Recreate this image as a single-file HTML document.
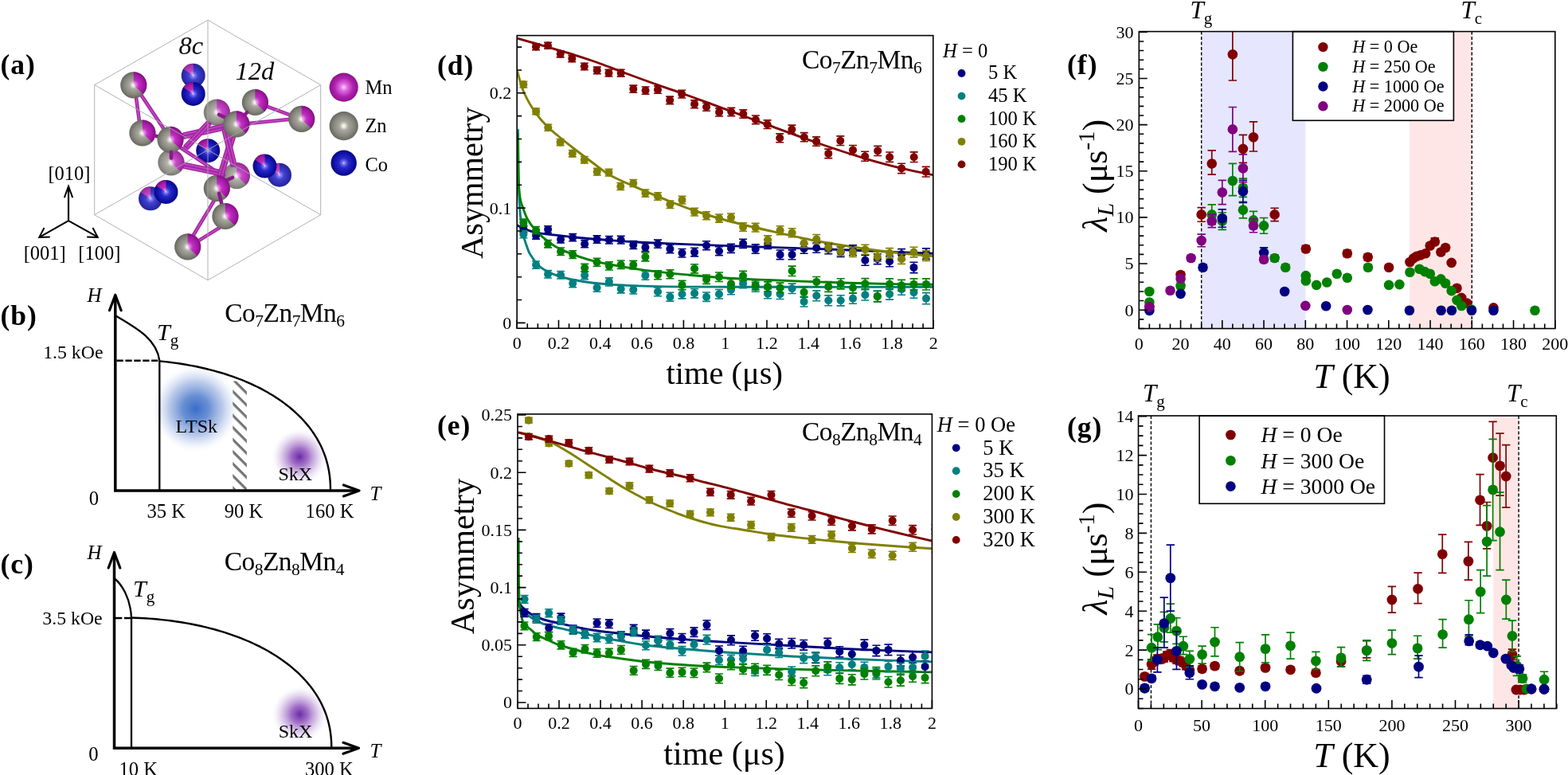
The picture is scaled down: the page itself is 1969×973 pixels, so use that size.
<!DOCTYPE html>
<html><head><meta charset="utf-8"><title>Figure</title>
<style>html,body{margin:0;padding:0;background:#fff;width:1969px;height:973px;overflow:hidden}svg{display:block}text{font-family:'Liberation Serif','Times New Roman',serif}</style></head><body>
<svg width="1969" height="973" viewBox="0 0 1969 973" font-family="'Liberation Serif','Times New Roman',serif">
<rect width="1969" height="973" fill="#fff"/>
<defs>
<clipPath id="cd"><rect x="649.2" y="44.6" width="522.6" height="367.6"/></clipPath>
<clipPath id="ce"><rect x="650" y="519.9" width="520.4" height="369.5"/></clipPath>
<clipPath id="cf"><rect x="1430.3" y="39.6" width="522.5" height="372.9"/></clipPath>
<clipPath id="cg"><rect x="1429.5" y="522" width="524.8" height="367.5"/></clipPath>
<radialGradient id="gZn" cx="0.5" cy="0.5" r="0.55" fx="0.5" fy="0.5"><stop offset="0" stop-color="#ffffff"/><stop offset="0.08" stop-color="#eeeee6"/><stop offset="0.28" stop-color="#a8a89e"/><stop offset="0.65" stop-color="#86867e"/><stop offset="1" stop-color="#5c5c54"/></radialGradient>
<radialGradient id="gMn" cx="0.5" cy="0.5" r="0.55" fx="0.5" fy="0.5"><stop offset="0" stop-color="#ffd0ff"/><stop offset="0.22" stop-color="#e070e0"/><stop offset="0.6" stop-color="#b020b0"/><stop offset="1" stop-color="#801080"/></radialGradient>
<radialGradient id="gCo" cx="0.5" cy="0.5" r="0.55" fx="0.5" fy="0.5"><stop offset="0" stop-color="#c8c8ff"/><stop offset="0.12" stop-color="#7070f0"/><stop offset="0.35" stop-color="#2828c8"/><stop offset="0.7" stop-color="#1010a8"/><stop offset="1" stop-color="#050570"/></radialGradient>
<radialGradient id="gLT" cx="0.5" cy="0.5" r="0.5"><stop offset="0" stop-color="#3a6cc8" stop-opacity="1"/><stop offset="0.3" stop-color="#4f7dcc" stop-opacity="0.85"/><stop offset="0.6" stop-color="#7f9cd8" stop-opacity="0.55"/><stop offset="0.8" stop-color="#b4c6ea" stop-opacity="0.3"/><stop offset="1" stop-color="#ffffff" stop-opacity="0"/></radialGradient>
<radialGradient id="gSk" cx="0.5" cy="0.5" r="0.5"><stop offset="0" stop-color="#6a2aa8" stop-opacity="1"/><stop offset="0.3" stop-color="#8a4cb8" stop-opacity="0.8"/><stop offset="0.6" stop-color="#b08ad0" stop-opacity="0.5"/><stop offset="0.8" stop-color="#d0b8e4" stop-opacity="0.25"/><stop offset="1" stop-color="#ffffff" stop-opacity="0"/></radialGradient>
<pattern id="hatch" patternUnits="userSpaceOnUse" width="10.7" height="10.7" patternTransform="rotate(45)"><rect x="0" y="0" width="10.7" height="3.2" fill="#757575"/></pattern>
</defs>
<defs><radialGradient id="gMnW" gradientUnits="userSpaceOnUse" cx="0" cy="0" r="1.1"><stop offset="0" stop-color="#ffd8ff"/><stop offset="0.12" stop-color="#f090f0"/><stop offset="0.35" stop-color="#c030c0"/><stop offset="0.7" stop-color="#a418a4"/><stop offset="1" stop-color="#780878"/></radialGradient><g id="a12"><circle r="1" fill="url(#gZn)"/><path d="M0,0L0,-1A1,1 0 0 1 0.72,0.69Z" fill="url(#gMnW)"/></g><g id="aCo"><circle r="1" fill="url(#gCo)"/><path d="M0,0L0,-1A1,1 0 0 0 -0.84,-0.54Z" fill="url(#gMnW)"/></g></defs>
<use href="#aCo" transform="translate(242.7,94.8) scale(15)" opacity="0.88"/>
<use href="#a12" transform="translate(272.3,141.1) scale(16.6)" opacity="0.88"/>
<use href="#a12" transform="translate(214.9,204) scale(16.6)" opacity="0.88"/>
<use href="#a12" transform="translate(297.3,220.6) scale(16.6)" opacity="0.88"/>
<use href="#aCo" transform="translate(351,219.7) scale(15)" opacity="0.88"/>
<use href="#aCo" transform="translate(189,249.3) scale(15)" opacity="0.88"/>
<use href="#aCo" transform="translate(261.2,189.2) scale(15)"/>
<line x1="170.5" y1="118.9" x2="175.2" y2="154" stroke="#a626a6" stroke-width="4.6" stroke-linecap="round"/>
<line x1="170.5" y1="118.9" x2="175.2" y2="154" stroke="#c050c0" stroke-width="1.4"/>
<line x1="177" y1="118.9" x2="206.6" y2="163.3" stroke="#a626a6" stroke-width="4.6" stroke-linecap="round"/>
<line x1="177" y1="118.9" x2="206.6" y2="163.3" stroke="#c050c0" stroke-width="1.4"/>
<line x1="230.7" y1="168.5" x2="280.6" y2="157.6" stroke="#a626a6" stroke-width="4.6" stroke-linecap="round"/>
<line x1="230.7" y1="168.5" x2="280.6" y2="157.6" stroke="#c050c0" stroke-width="1.4"/>
<line x1="231.5" y1="172.5" x2="281.4" y2="161.6" stroke="#a626a6" stroke-width="4.6" stroke-linecap="round"/>
<line x1="231.5" y1="172.5" x2="281.4" y2="161.6" stroke="#c050c0" stroke-width="1.4"/>
<line x1="227" y1="185.5" x2="276.9" y2="218.8" stroke="#a626a6" stroke-width="4.6" stroke-linecap="round"/>
<line x1="227" y1="185.5" x2="276.9" y2="218.8" stroke="#c050c0" stroke-width="1.4"/>
<line x1="230.7" y1="205.7" x2="280.6" y2="215.9" stroke="#a626a6" stroke-width="4.6" stroke-linecap="round"/>
<line x1="230.7" y1="205.7" x2="280.6" y2="215.9" stroke="#c050c0" stroke-width="1.4"/>
<line x1="231.2" y1="209.7" x2="281.1" y2="219.9" stroke="#a626a6" stroke-width="4.6" stroke-linecap="round"/>
<line x1="231.2" y1="209.7" x2="281.1" y2="219.9" stroke="#c050c0" stroke-width="1.4"/>
<line x1="232.5" y1="183.6" x2="260.3" y2="154" stroke="#a626a6" stroke-width="4.6" stroke-linecap="round"/>
<line x1="232.5" y1="183.6" x2="260.3" y2="154" stroke="#c050c0" stroke-width="1.4"/>
<line x1="235.5" y1="185.6" x2="263.3" y2="156" stroke="#a626a6" stroke-width="4.6" stroke-linecap="round"/>
<line x1="235.5" y1="185.6" x2="263.3" y2="156" stroke="#c050c0" stroke-width="1.4"/>
<line x1="289.7" y1="172.5" x2="274.9" y2="220.6" stroke="#a626a6" stroke-width="4.6" stroke-linecap="round"/>
<line x1="289.7" y1="172.5" x2="274.9" y2="220.6" stroke="#c050c0" stroke-width="1.4"/>
<line x1="293.7" y1="172.5" x2="278.9" y2="220.6" stroke="#a626a6" stroke-width="4.6" stroke-linecap="round"/>
<line x1="293.7" y1="172.5" x2="278.9" y2="220.6" stroke="#c050c0" stroke-width="1.4"/>
<line x1="280.6" y1="163.3" x2="291.6" y2="207.7" stroke="#a626a6" stroke-width="4.6" stroke-linecap="round"/>
<line x1="280.6" y1="163.3" x2="291.6" y2="207.7" stroke="#c050c0" stroke-width="1.4"/>
<line x1="284.6" y1="163.3" x2="295.6" y2="207.7" stroke="#a626a6" stroke-width="4.6" stroke-linecap="round"/>
<line x1="284.6" y1="163.3" x2="295.6" y2="207.7" stroke="#c050c0" stroke-width="1.4"/>
<line x1="335.2" y1="133.7" x2="367.6" y2="145.7" stroke="#a626a6" stroke-width="4.6" stroke-linecap="round"/>
<line x1="335.2" y1="133.7" x2="367.6" y2="145.7" stroke="#c050c0" stroke-width="1.4"/>
<line x1="312.1" y1="155" x2="362.1" y2="150" stroke="#a626a6" stroke-width="4.6" stroke-linecap="round"/>
<line x1="312.1" y1="155" x2="362.1" y2="150" stroke="#c050c0" stroke-width="1.4"/>
<line x1="270" y1="250" x2="240" y2="300" stroke="#a626a6" stroke-width="4.6" stroke-linecap="round"/>
<line x1="270" y1="250" x2="240" y2="300" stroke="#c050c0" stroke-width="1.4"/>
<line x1="285" y1="280" x2="245" y2="305" stroke="#a626a6" stroke-width="4.6" stroke-linecap="round"/>
<line x1="285" y1="280" x2="245" y2="305" stroke="#c050c0" stroke-width="1.4"/>
<use href="#a12" transform="translate(167.8,106.8) scale(16.6)"/>
<use href="#aCo" transform="translate(242.7,117.9) scale(15)"/>
<use href="#a12" transform="translate(178.9,167) scale(16.6)"/>
<line x1="195.5" y1="170.7" x2="208.5" y2="173.4" stroke="#8a1a8a" stroke-width="4.6" stroke-linecap="round"/>
<line x1="275" y1="144" x2="288" y2="150" stroke="#8a1a8a" stroke-width="4.6" stroke-linecap="round"/>
<use href="#a12" transform="translate(214,175.3) scale(16.6)"/>
<line x1="215" y1="191" x2="215" y2="198.4" stroke="#8a1a8a" stroke-width="4.6" stroke-linecap="round"/>
<use href="#a12" transform="translate(320.4,128.5) scale(16.6)"/>
<line x1="301" y1="150.3" x2="310.2" y2="141.1" stroke="#8a1a8a" stroke-width="4.6" stroke-linecap="round"/>
<use href="#a12" transform="translate(296.9,155.9) scale(16.6)"/>
<use href="#a12" transform="translate(378.7,149.4) scale(16.6)"/>
<use href="#aCo" transform="translate(332.5,208.6) scale(15)"/>
<use href="#aCo" transform="translate(208.5,241) scale(15)"/>
<line x1="285" y1="226" x2="292" y2="223" stroke="#8a1a8a" stroke-width="4.6" stroke-linecap="round"/>
<use href="#a12" transform="translate(272.3,236.4) scale(16.6)"/>
<line x1="275.1" y1="242.8" x2="278.8" y2="257.6" stroke="#8a1a8a" stroke-width="4.6" stroke-linecap="round"/>
<use href="#a12" transform="translate(282.9,271.5) scale(16.6)"/>
<use href="#a12" transform="translate(235.7,309.9) scale(16.6)"/>
<path d="M261,25.2 L402.7,106.6 L402.7,269.7 L261,351.8 L118.7,269.7 L118.7,106.6ZM261,188.2L261,25.2M261,188.2L402.7,106.6M261,188.2L402.7,269.7M261,188.2L261,351.8M261,188.2L118.7,269.7M261,188.2L118.7,106.6" fill="none" stroke="#a8a8a8" stroke-width="1.0" stroke-opacity="0.9"/>
<text x="224.5" y="68.4" font-size="32.5" font-style="italic">8c</text>
<text x="295.5" y="100.3" font-size="32.5" font-style="italic">12d</text>
<circle cx="431.7" cy="109.6" r="18.1" fill="url(#gMn)"/>
<circle cx="431.7" cy="158.1" r="18.1" fill="url(#gZn)"/>
<circle cx="431.7" cy="204.6" r="16.2" fill="url(#gCo)"/>
<text x="458.4" y="117.5" font-size="24.5">Mn</text>
<text x="458.4" y="166.3" font-size="24.5">Zn</text>
<text x="458.4" y="214.8" font-size="24.5">Co</text>
<path d="M86,277.1V234.5M86,277.1L49.8,297.6M86,277.1L122.8,297.6" stroke="#000" stroke-width="2.2" fill="none"/>
<path d="M80.8,248.2L86,234L91.2,248.2M55.5,286L49.3,297.9L62.8,297.5M109.2,297.5L122.7,297.9L116.5,286" stroke="#000" stroke-width="2" fill="none" stroke-linejoin="miter"/>
<text x="87" y="226.3" font-size="24.5" text-anchor="middle">[010]</text>
<text x="56.2" y="325.7" font-size="24.5" text-anchor="middle">[001]</text>
<text x="124.8" y="325.7" font-size="24.5" text-anchor="middle">[100]</text>
<circle cx="245.7" cy="513.1" r="56" fill="url(#gLT)"/>
<circle cx="376" cy="573.5" r="36" fill="url(#gSk)"/>
<rect x="292.3" y="478.5" width="17.6" height="136" fill="url(#hatch)"/>
<path d="M144.8,617.75V372.2M143.05,616H449" stroke="#000" stroke-width="3.5" fill="none"/>
<path d="M137.5,389.7L144.8,370.2L152.1,389.7M431.5,609L451,616L431.5,623" stroke="#000" stroke-width="3.2" fill="none" stroke-linejoin="round" stroke-linecap="round"/>
<path d="M145,396.2C170,411.2 196.3,424.6 200.3,452.6" stroke="#000" stroke-width="2.3" fill="none"/>
<path d="M146.5,452.8H200.3" stroke="#000" stroke-width="2.4" fill="none" stroke-dasharray="8.3,2.6"/>
<path d="M200.3,452.6V615" stroke="#000" stroke-width="2.3" fill="none"/>
<path d="M200.3,453.39 L205.18,453.88 L210,454.42 L214.78,455 L219.5,455.62 L224.18,456.29 L228.81,457 L233.39,457.76 L237.93,458.56 L242.42,459.41 L246.87,460.3 L251.26,461.23 L255.62,462.21 L259.92,463.23 L264.18,464.29 L268.39,465.4 L272.56,466.55 L276.67,467.74 L280.74,468.97 L284.76,470.24 L288.73,471.56 L292.65,472.92 L296.52,474.31 L300.34,475.75 L304.1,477.23 L307.82,478.75 L311.48,480.31 L315.08,481.91 L318.64,483.54 L322.14,485.22 L325.58,486.93 L328.97,488.69 L332.3,490.48 L335.57,492.3 L338.78,494.17 L341.94,496.07 L345.04,498 L348.07,499.97 L351.05,501.98 L353.96,504.02 L356.82,506.1 L359.61,508.21 L362.34,510.35 L365,512.53 L367.6,514.74 L370.14,516.99 L372.61,519.26 L375.02,521.57 L377.36,523.91 L379.63,526.28 L381.84,528.68 L383.98,531.11 L386.05,533.57 L388.05,536.07 L389.98,538.59 L391.85,541.14 L393.64,543.72 L395.36,546.32 L397.02,548.96 L398.6,551.62 L400.11,554.32 L401.55,557.04 L402.92,559.79 L404.22,562.56 L405.44,565.37 L406.59,568.2 L407.67,571.07 L408.67,573.96 L409.6,576.88 L410.46,579.84 L411.24,582.83 L411.95,585.85 L412.59,588.91 L413.15,592.01 L413.63,595.15 L414.04,598.34 L414.38,601.6 L414.64,604.93 L414.83,608.36 L414.94,611.95 L414.98,616" stroke="#000" stroke-width="2.4" fill="none" stroke-linejoin="round"/>
<text x="220.6" y="542.7" font-size="24">LTSk</text>
<text x="349.5" y="603.3" font-size="24">SkX</text>
<text x="109.5" y="379" font-size="25" font-style="italic">H</text>
<text x="129.5" y="450.2" font-size="23.8" text-anchor="end">1.5 kOe</text>
<text x="118" y="633.6" font-size="24.6" text-anchor="middle">0</text>
<text x="208.7" y="649.6" font-size="24.6" text-anchor="middle">35 K</text>
<text x="306" y="649.6" font-size="24.6" text-anchor="middle">90 K</text>
<text x="414" y="649.6" font-size="24.6" text-anchor="middle">160 K</text>
<text x="464.5" y="628" font-size="25" font-style="italic">T</text>
<text x="282.3" y="404" font-size="33.5" letter-spacing="-0.55">Co<tspan font-size="21.5" dy="5.6">7</tspan><tspan dy="-5.6">Zn</tspan><tspan font-size="21.5" dy="5.6">7</tspan><tspan dy="-5.6">Mn</tspan><tspan font-size="21.5" dy="5.6">6</tspan></text>
<text x="197" y="427.4" font-size="30"><tspan font-style="italic">T</tspan><tspan font-size="21" dy="7">g</tspan></text>
<circle cx="376.3" cy="896.8" r="36" fill="url(#gSk)"/>
<path d="M143.5,941.05V695.5M141.75,939.3H448.5" stroke="#000" stroke-width="3.5" fill="none"/>
<path d="M136.2,713L143.5,693.5L150.8,713M431,932.3L450.5,939.3L431,946.3" stroke="#000" stroke-width="3.2" fill="none" stroke-linejoin="round" stroke-linecap="round"/>
<path d="M143.5,726C152.3,733 163.8,750 165,775.8" stroke="#000" stroke-width="2.3" fill="none"/>
<path d="M145,776H165" stroke="#000" stroke-width="2.4" fill="none" stroke-dasharray="8.3,2.6"/>
<path d="M165,775.8V938" stroke="#000" stroke-width="2.3" fill="none"/>
<path d="M165,775.48 L170.76,775.69 L176.41,775.96 L181.98,776.28 L187.47,776.65 L192.88,777.07 L198.24,777.55 L203.54,778.08 L208.77,778.67 L213.96,779.31 L219.09,780 L224.17,780.74 L229.19,781.53 L234.17,782.38 L239.09,783.28 L243.96,784.23 L248.78,785.23 L253.55,786.29 L258.26,787.39 L262.92,788.55 L267.53,789.75 L272.08,791.01 L276.58,792.31 L281.02,793.66 L285.41,795.07 L289.74,796.52 L294.01,798.02 L298.22,799.56 L302.37,801.16 L306.46,802.8 L310.49,804.49 L314.46,806.22 L318.36,808 L322.2,809.82 L325.98,811.69 L329.68,813.6 L333.32,815.56 L336.9,817.56 L340.4,819.6 L343.84,821.68 L347.2,823.81 L350.49,825.98 L353.72,828.19 L356.86,830.43 L359.94,832.72 L362.94,835.05 L365.86,837.41 L368.71,839.81 L371.48,842.25 L374.18,844.73 L376.8,847.24 L379.33,849.79 L381.79,852.38 L384.17,855 L386.47,857.65 L388.68,860.34 L390.82,863.06 L392.87,865.81 L394.83,868.6 L396.72,871.41 L398.52,874.26 L400.23,877.15 L401.87,880.06 L403.41,883 L404.87,885.98 L406.24,888.98 L407.53,892.02 L408.72,895.09 L409.84,898.19 L410.86,901.32 L411.79,904.49 L412.64,907.69 L413.4,910.93 L414.07,914.21 L414.65,917.53 L415.14,920.9 L415.54,924.32 L415.86,927.82 L416.08,931.41 L416.22,935.14 L416.26,939.3" stroke="#000" stroke-width="2.4" fill="none" stroke-linejoin="round"/>
<text x="349.7" y="926.4" font-size="24">SkX</text>
<text x="109.5" y="701.8" font-size="25" font-style="italic">H</text>
<text x="128.7" y="784" font-size="23.8" text-anchor="end">3.5 kOe</text>
<text x="117.4" y="955.4" font-size="24.6" text-anchor="middle">0</text>
<text x="173.7" y="973.5" font-size="24.6" text-anchor="middle">10 K</text>
<text x="413.4" y="973.5" font-size="24.6" text-anchor="middle">300 K</text>
<text x="464.5" y="950.8" font-size="25" font-style="italic">T</text>
<text x="281.7" y="716" font-size="33.5" letter-spacing="-0.55">Co<tspan font-size="21.5" dy="5.6">8</tspan><tspan dy="-5.6">Zn</tspan><tspan font-size="21.5" dy="5.6">8</tspan><tspan dy="-5.6">Mn</tspan><tspan font-size="21.5" dy="5.6">4</tspan></text>
<text x="167" y="748.5" font-size="30"><tspan font-style="italic">T</tspan><tspan font-size="21" dy="7">g</tspan></text>
<g clip-path="url(#cd)">
<path d="M649.6,282.8 C650.92,283.52 653.28,285.5 657.5,287.1 C661.72,288.7 669.08,291.15 674.9,292.4 C680.72,293.65 684.02,293.63 692.4,294.6 C700.78,295.57 713.1,297.03 725.2,298.2 C737.3,299.37 751.63,300.6 765,301.6 C778.37,302.6 789.57,303.37 805.4,304.2 C821.23,305.03 841.73,305.87 860,306.6 C878.27,307.33 897.5,307.97 915,308.6 C932.5,309.23 946.62,309.77 965,310.4 C983.38,311.03 1001.9,311.53 1025.3,312.4 C1048.7,313.27 1081.02,314.63 1105.4,315.6 C1129.78,316.57 1160.57,317.77 1171.6,318.2" fill="none" stroke="#000080" stroke-width="2.9" stroke-linejoin="round"/>
<path d="M650.5,162.2 C650.55,171.82 650.52,204.47 650.8,219.9 C651.08,235.33 651.53,244.32 652.2,254.8 C652.87,265.28 653.92,275.82 654.8,282.8 C655.68,289.78 656.18,291.77 657.5,296.7 C658.82,301.63 661.25,308.52 662.7,312.4 C664.15,316.28 663.8,316.37 666.2,320 C668.6,323.63 672.28,330.15 677.1,334.2 C681.92,338.25 687.08,341.28 695.1,344.3 C703.12,347.32 713.5,350.17 725.2,352.3 C736.9,354.43 748.6,355.88 765.3,357.1 C782,358.32 800.45,359.08 825.4,359.6 C850.35,360.12 857.3,360.07 915,360.2 C972.7,360.33 1128.83,360.37 1171.6,360.4" fill="none" stroke="#008080" stroke-width="2.9" stroke-linejoin="round"/>
<path d="M650.5,167.5 C650.57,172.92 650.75,189.82 650.9,200 C651.05,210.18 651.05,220.6 651.4,228.6 C651.75,236.6 652.28,243.05 653,248 C653.72,252.95 654.08,253.67 655.7,258.3 C657.32,262.93 659.78,270.57 662.7,275.8 C665.62,281.03 668.83,285.05 673.2,289.7 C677.57,294.35 683.37,299.63 688.9,303.7 C694.43,307.77 697.02,310.12 706.4,314.1 C715.78,318.08 728.7,323.52 745.2,327.6 C761.7,331.68 785.35,335.65 805.4,338.6 C825.45,341.55 847.23,343.52 865.5,345.3 C883.77,347.08 898.4,348.27 915,349.3 C931.6,350.33 946.72,350.73 965.1,351.5 C983.48,352.27 1001.92,353.1 1025.3,353.9 C1048.68,354.7 1081.02,355.73 1105.4,356.3 C1129.78,356.87 1160.57,357.13 1171.6,357.3" fill="none" stroke="#008000" stroke-width="2.9" stroke-linejoin="round"/>
<path d="M649.6,89.4 C650.23,91.63 652.1,98.57 653.4,102.8 C654.7,107.03 655.63,110.58 657.4,114.8 C659.17,119.02 661.33,123.43 664,128.1 C666.67,132.77 669.62,137.78 673.4,142.8 C677.18,147.82 682.25,153.67 686.7,158.2 C691.15,162.73 694.55,165.37 700.1,170 C705.65,174.63 712.48,180.17 720,186 C727.52,191.83 737.65,199.42 745.2,205 C752.75,210.58 756.95,214.73 765.3,219.5 C773.65,224.27 781.95,227.77 795.3,233.6 C808.65,239.43 832.12,249.18 845.4,254.5 C858.68,259.82 863.4,261.67 875,265.5 C886.6,269.33 899.98,273.5 915,277.5 C930.02,281.5 946.72,285.33 965.1,289.5 C983.48,293.67 1005.25,298.72 1025.3,302.5 C1045.35,306.28 1068.7,309.73 1085.4,312.2 C1102.1,314.67 1111.13,315.73 1125.5,317.3 C1139.87,318.87 1163.92,320.88 1171.6,321.6" fill="none" stroke="#808000" stroke-width="2.9" stroke-linejoin="round"/>
<path d="M649.6,48.2 C653.33,49.25 663.6,52.1 672,54.5 C680.4,56.9 691.48,60.08 700,62.6 C708.52,65.12 714.77,66.95 723.1,69.6 C731.43,72.25 740.23,75.02 750,78.5 C759.77,81.98 770.03,86.17 781.7,90.5 C793.37,94.83 807.63,100.08 820,104.5 C832.37,108.92 840.07,111.32 855.9,117 C871.73,122.68 897.05,132 915,138.6 C932.95,145.2 945.25,149.87 963.6,156.6 C981.95,163.33 1004.6,171.92 1025.1,179 C1045.6,186.08 1068.7,193.7 1086.6,199.1 C1104.5,204.5 1118.35,207.98 1132.5,211.4 C1146.65,214.82 1165,218.23 1171.5,219.6" fill="none" stroke="#800000" stroke-width="2.9" stroke-linejoin="round"/>
<path d="M657.4,283.26V291.74M652.4,283.26H662.4M652.4,291.74H662.4" stroke="#000080" stroke-width="1.6" fill="none"/><circle cx="657.4" cy="287.5" r="5" fill="#000080"/>
<path d="M673.1,291.48V300.12M668.1,291.48H678.1M668.1,300.12H678.1" stroke="#000080" stroke-width="1.6" fill="none"/><circle cx="673.1" cy="295.8" r="5" fill="#000080"/>
<path d="M688.1,283.71V292.49M683.1,283.71H693.1M683.1,292.49H693.1" stroke="#000080" stroke-width="1.6" fill="none"/><circle cx="688.1" cy="288.1" r="5" fill="#000080"/>
<path d="M704.1,296.13V305.07M699.1,296.13H709.1M699.1,305.07H709.1" stroke="#000080" stroke-width="1.6" fill="none"/><circle cx="704.1" cy="300.6" r="5" fill="#000080"/>
<path d="M719.2,293.65V302.75M714.2,293.65H724.2M714.2,302.75H724.2" stroke="#000080" stroke-width="1.6" fill="none"/><circle cx="719.2" cy="298.2" r="5" fill="#000080"/>
<path d="M734.2,301.58V310.82M729.2,301.58H739.2M729.2,310.82H739.2" stroke="#000080" stroke-width="1.6" fill="none"/><circle cx="734.2" cy="306.2" r="5" fill="#000080"/>
<path d="M749.6,295.9V305.3M744.6,295.9H754.6M744.6,305.3H754.6" stroke="#000080" stroke-width="1.6" fill="none"/><circle cx="749.6" cy="300.6" r="5" fill="#000080"/>
<path d="M764.9,296.43V305.97M759.9,296.43H769.9M759.9,305.97H769.9" stroke="#000080" stroke-width="1.6" fill="none"/><circle cx="764.9" cy="301.2" r="5" fill="#000080"/>
<path d="M779.7,296.35V306.05M774.7,296.35H784.7M774.7,306.05H784.7" stroke="#000080" stroke-width="1.6" fill="none"/><circle cx="779.7" cy="301.2" r="5" fill="#000080"/>
<path d="M795.3,302.67V312.53M790.3,302.67H800.3M790.3,312.53H800.3" stroke="#000080" stroke-width="1.6" fill="none"/><circle cx="795.3" cy="307.6" r="5" fill="#000080"/>
<path d="M810.4,305.6V315.6M805.4,305.6H815.4M805.4,315.6H815.4" stroke="#000080" stroke-width="1.6" fill="none"/><circle cx="810.4" cy="310.6" r="5" fill="#000080"/>
<path d="M826,301.12V311.28M821,301.12H831M821,311.28H831" stroke="#000080" stroke-width="1.6" fill="none"/><circle cx="826" cy="306.2" r="5" fill="#000080"/>
<path d="M841.4,307.44V317.76M836.4,307.44H846.4M836.4,317.76H846.4" stroke="#000080" stroke-width="1.6" fill="none"/><circle cx="841.4" cy="312.6" r="5" fill="#000080"/>
<path d="M856.5,312.57V323.03M851.5,312.57H861.5M851.5,323.03H861.5" stroke="#000080" stroke-width="1.6" fill="none"/><circle cx="856.5" cy="317.8" r="5" fill="#000080"/>
<path d="M872.1,311.29V321.91M867.1,311.29H877.1M867.1,321.91H877.1" stroke="#000080" stroke-width="1.6" fill="none"/><circle cx="872.1" cy="316.6" r="5" fill="#000080"/>
<path d="M887.1,302.81V313.59M882.1,302.81H892.1M882.1,313.59H892.1" stroke="#000080" stroke-width="1.6" fill="none"/><circle cx="887.1" cy="308.2" r="5" fill="#000080"/>
<path d="M903,309.74V320.66M898,309.74H908M898,320.66H908" stroke="#000080" stroke-width="1.6" fill="none"/><circle cx="903" cy="315.2" r="5" fill="#000080"/>
<path d="M918,306.26V317.34M913,306.26H923M913,317.34H923" stroke="#000080" stroke-width="1.6" fill="none"/><circle cx="918" cy="311.8" r="5" fill="#000080"/>
<path d="M933.1,300.18V311.42M928.1,300.18H938.1M928.1,311.42H938.1" stroke="#000080" stroke-width="1.6" fill="none"/><circle cx="933.1" cy="305.8" r="5" fill="#000080"/>
<path d="M948.7,306.91V318.29M943.7,306.91H953.7M943.7,318.29H953.7" stroke="#000080" stroke-width="1.6" fill="none"/><circle cx="948.7" cy="312.6" r="5" fill="#000080"/>
<path d="M964.1,300.83V312.37M959.1,300.83H969.1M959.1,312.37H969.1" stroke="#000080" stroke-width="1.6" fill="none"/><circle cx="964.1" cy="306.6" r="5" fill="#000080"/>
<path d="M979.6,313.95V325.65M974.6,313.95H984.6M974.6,325.65H984.6" stroke="#000080" stroke-width="1.6" fill="none"/><circle cx="979.6" cy="319.8" r="5" fill="#000080"/>
<path d="M994.6,313.88V325.72M989.6,313.88H999.6M989.6,325.72H999.6" stroke="#000080" stroke-width="1.6" fill="none"/><circle cx="994.6" cy="319.8" r="5" fill="#000080"/>
<path d="M1009.6,306.2V318.2M1004.6,306.2H1014.6M1004.6,318.2H1014.6" stroke="#000080" stroke-width="1.6" fill="none"/><circle cx="1009.6" cy="312.2" r="5" fill="#000080"/>
<path d="M1025.3,305.12V317.28M1020.3,305.12H1030.3M1020.3,317.28H1030.3" stroke="#000080" stroke-width="1.6" fill="none"/><circle cx="1025.3" cy="311.2" r="5" fill="#000080"/>
<path d="M1040.3,306.45V318.75M1035.3,306.45H1045.3M1035.3,318.75H1045.3" stroke="#000080" stroke-width="1.6" fill="none"/><circle cx="1040.3" cy="312.6" r="5" fill="#000080"/>
<path d="M1055.7,309.97V322.43M1050.7,309.97H1060.7M1050.7,322.43H1060.7" stroke="#000080" stroke-width="1.6" fill="none"/><circle cx="1055.7" cy="316.2" r="5" fill="#000080"/>
<path d="M1071,307.89V320.5M1066,307.89H1076M1066,320.5H1076" stroke="#000080" stroke-width="1.6" fill="none"/><circle cx="1071" cy="314.2" r="5" fill="#000080"/>
<path d="M1086.4,320.42V333.18M1081.4,320.42H1091.4M1081.4,333.18H1091.4" stroke="#000080" stroke-width="1.6" fill="none"/><circle cx="1086.4" cy="326.8" r="5" fill="#000080"/>
<path d="M1101.8,318.74V331.66M1096.8,318.74H1106.8M1096.8,331.66H1106.8" stroke="#000080" stroke-width="1.6" fill="none"/><circle cx="1101.8" cy="325.2" r="5" fill="#000080"/>
<path d="M1117.1,321.66V334.74M1112.1,321.66H1122.1M1112.1,334.74H1122.1" stroke="#000080" stroke-width="1.6" fill="none"/><circle cx="1117.1" cy="328.2" r="5" fill="#000080"/>
<path d="M1132.1,312.59V325.81M1127.1,312.59H1137.1M1127.1,325.81H1137.1" stroke="#000080" stroke-width="1.6" fill="none"/><circle cx="1132.1" cy="319.2" r="5" fill="#000080"/>
<path d="M1147.5,329.21V342.59M1142.5,329.21H1152.5M1142.5,342.59H1152.5" stroke="#000080" stroke-width="1.6" fill="none"/><circle cx="1147.5" cy="335.9" r="5" fill="#000080"/>
<path d="M1163,311.84V325.37M1158,311.84H1168M1158,325.37H1168" stroke="#000080" stroke-width="1.6" fill="none"/><circle cx="1163" cy="318.6" r="5" fill="#000080"/>
<path d="M657.4,289.66V298.74M652.4,289.66H662.4M652.4,298.74H662.4" stroke="#008080" stroke-width="1.6" fill="none"/><circle cx="657.4" cy="294.2" r="5" fill="#008080"/>
<path d="M673.1,327.98V337.22M668.1,327.98H678.1M668.1,337.22H678.1" stroke="#008080" stroke-width="1.6" fill="none"/><circle cx="673.1" cy="332.6" r="5" fill="#008080"/>
<path d="M688.1,339.61V348.99M683.1,339.61H693.1M683.1,348.99H693.1" stroke="#008080" stroke-width="1.6" fill="none"/><circle cx="688.1" cy="344.3" r="5" fill="#008080"/>
<path d="M704.1,340.53V350.07M699.1,340.53H709.1M699.1,350.07H709.1" stroke="#008080" stroke-width="1.6" fill="none"/><circle cx="704.1" cy="345.3" r="5" fill="#008080"/>
<path d="M719.2,351.05V360.75M714.2,351.05H724.2M714.2,360.75H724.2" stroke="#008080" stroke-width="1.6" fill="none"/><circle cx="719.2" cy="355.9" r="5" fill="#008080"/>
<path d="M734.2,340.78V350.62M729.2,340.78H739.2M729.2,350.62H739.2" stroke="#008080" stroke-width="1.6" fill="none"/><circle cx="734.2" cy="345.7" r="5" fill="#008080"/>
<path d="M749.6,356.3V366.3M744.6,356.3H754.6M744.6,366.3H754.6" stroke="#008080" stroke-width="1.6" fill="none"/><circle cx="749.6" cy="361.3" r="5" fill="#008080"/>
<path d="M764.9,348.83V358.97M759.9,348.83H769.9M759.9,358.97H769.9" stroke="#008080" stroke-width="1.6" fill="none"/><circle cx="764.9" cy="353.9" r="5" fill="#008080"/>
<path d="M779.7,357.55V367.85M774.7,357.55H784.7M774.7,367.85H784.7" stroke="#008080" stroke-width="1.6" fill="none"/><circle cx="779.7" cy="362.7" r="5" fill="#008080"/>
<path d="M795.3,358.47V368.93M790.3,358.47H800.3M790.3,368.93H800.3" stroke="#008080" stroke-width="1.6" fill="none"/><circle cx="795.3" cy="363.7" r="5" fill="#008080"/>
<path d="M810.4,340.6V351.2M805.4,340.6H815.4M805.4,351.2H815.4" stroke="#008080" stroke-width="1.6" fill="none"/><circle cx="810.4" cy="345.9" r="5" fill="#008080"/>
<path d="M826,360.92V371.68M821,360.92H831M821,371.68H831" stroke="#008080" stroke-width="1.6" fill="none"/><circle cx="826" cy="366.3" r="5" fill="#008080"/>
<path d="M841.4,367.24V378.16M836.4,367.24H846.4M836.4,378.16H846.4" stroke="#008080" stroke-width="1.6" fill="none"/><circle cx="841.4" cy="372.7" r="5" fill="#008080"/>
<path d="M856.5,363.77V374.83M851.5,363.77H861.5M851.5,374.83H861.5" stroke="#008080" stroke-width="1.6" fill="none"/><circle cx="856.5" cy="369.3" r="5" fill="#008080"/>
<path d="M872.1,362.69V373.91M867.1,362.69H877.1M867.1,373.91H877.1" stroke="#008080" stroke-width="1.6" fill="none"/><circle cx="872.1" cy="368.3" r="5" fill="#008080"/>
<path d="M887.1,367.01V378.39M882.1,367.01H892.1M882.1,378.39H892.1" stroke="#008080" stroke-width="1.6" fill="none"/><circle cx="887.1" cy="372.7" r="5" fill="#008080"/>
<path d="M903,363.54V375.06M898,363.54H908M898,375.06H908" stroke="#008080" stroke-width="1.6" fill="none"/><circle cx="903" cy="369.3" r="5" fill="#008080"/>
<path d="M918,358.06V369.74M913,358.06H923M913,369.74H923" stroke="#008080" stroke-width="1.6" fill="none"/><circle cx="918" cy="363.9" r="5" fill="#008080"/>
<path d="M933.1,349.98V361.82M928.1,349.98H938.1M928.1,361.82H938.1" stroke="#008080" stroke-width="1.6" fill="none"/><circle cx="933.1" cy="355.9" r="5" fill="#008080"/>
<path d="M948.7,354.31V366.29M943.7,354.31H953.7M943.7,366.29H953.7" stroke="#008080" stroke-width="1.6" fill="none"/><circle cx="948.7" cy="360.3" r="5" fill="#008080"/>
<path d="M964.1,362.63V374.77M959.1,362.63H969.1M959.1,374.77H969.1" stroke="#008080" stroke-width="1.6" fill="none"/><circle cx="964.1" cy="368.7" r="5" fill="#008080"/>
<path d="M979.6,363.15V375.45M974.6,363.15H984.6M974.6,375.45H984.6" stroke="#008080" stroke-width="1.6" fill="none"/><circle cx="979.6" cy="369.3" r="5" fill="#008080"/>
<path d="M994.6,356.08V368.52M989.6,356.08H999.6M989.6,368.52H999.6" stroke="#008080" stroke-width="1.6" fill="none"/><circle cx="994.6" cy="362.3" r="5" fill="#008080"/>
<path d="M1009.6,372.4V385M1004.6,372.4H1014.6M1004.6,385H1014.6" stroke="#008080" stroke-width="1.6" fill="none"/><circle cx="1009.6" cy="378.7" r="5" fill="#008080"/>
<path d="M1025.3,364.92V377.68M1020.3,364.92H1030.3M1020.3,377.68H1030.3" stroke="#008080" stroke-width="1.6" fill="none"/><circle cx="1025.3" cy="371.3" r="5" fill="#008080"/>
<path d="M1040.3,370.85V383.75M1035.3,370.85H1045.3M1035.3,383.75H1045.3" stroke="#008080" stroke-width="1.6" fill="none"/><circle cx="1040.3" cy="377.3" r="5" fill="#008080"/>
<path d="M1055.7,370.77V383.83M1050.7,370.77H1060.7M1050.7,383.83H1060.7" stroke="#008080" stroke-width="1.6" fill="none"/><circle cx="1055.7" cy="377.3" r="5" fill="#008080"/>
<path d="M1071,368.09V381.31M1066,368.09H1076M1066,381.31H1076" stroke="#008080" stroke-width="1.6" fill="none"/><circle cx="1071" cy="374.7" r="5" fill="#008080"/>
<path d="M1086.4,363.62V376.98M1081.4,363.62H1091.4M1081.4,376.98H1091.4" stroke="#008080" stroke-width="1.6" fill="none"/><circle cx="1086.4" cy="370.3" r="5" fill="#008080"/>
<path d="M1101.8,365.14V378.66M1096.8,365.14H1106.8M1096.8,378.66H1106.8" stroke="#008080" stroke-width="1.6" fill="none"/><circle cx="1101.8" cy="371.9" r="5" fill="#008080"/>
<path d="M1117.1,362.46V376.14M1112.1,362.46H1122.1M1112.1,376.14H1122.1" stroke="#008080" stroke-width="1.6" fill="none"/><circle cx="1117.1" cy="369.3" r="5" fill="#008080"/>
<path d="M1132.1,356.39V370.21M1127.1,356.39H1137.1M1127.1,370.21H1137.1" stroke="#008080" stroke-width="1.6" fill="none"/><circle cx="1132.1" cy="363.3" r="5" fill="#008080"/>
<path d="M1147.5,360.31V374.29M1142.5,360.31H1152.5M1142.5,374.29H1152.5" stroke="#008080" stroke-width="1.6" fill="none"/><circle cx="1147.5" cy="367.3" r="5" fill="#008080"/>
<path d="M1163,367.63V381.76M1158,367.63H1168M1158,381.76H1168" stroke="#008080" stroke-width="1.6" fill="none"/><circle cx="1163" cy="374.7" r="5" fill="#008080"/>
<path d="M657.4,275.16V284.24M652.4,275.16H662.4M652.4,284.24H662.4" stroke="#008000" stroke-width="1.6" fill="none"/><circle cx="657.4" cy="279.7" r="5" fill="#008000"/>
<path d="M673.1,284.58V293.82M668.1,284.58H678.1M668.1,293.82H678.1" stroke="#008000" stroke-width="1.6" fill="none"/><circle cx="673.1" cy="289.2" r="5" fill="#008000"/>
<path d="M688.1,301.51V310.89M683.1,301.51H693.1M683.1,310.89H693.1" stroke="#008000" stroke-width="1.6" fill="none"/><circle cx="688.1" cy="306.2" r="5" fill="#008000"/>
<path d="M704.1,311.03V320.57M699.1,311.03H709.1M699.1,320.57H709.1" stroke="#008000" stroke-width="1.6" fill="none"/><circle cx="704.1" cy="315.8" r="5" fill="#008000"/>
<path d="M719.2,314.75V324.45M714.2,314.75H724.2M714.2,324.45H724.2" stroke="#008000" stroke-width="1.6" fill="none"/><circle cx="719.2" cy="319.6" r="5" fill="#008000"/>
<path d="M734.2,331.38V341.22M729.2,331.38H739.2M729.2,341.22H739.2" stroke="#008000" stroke-width="1.6" fill="none"/><circle cx="734.2" cy="336.3" r="5" fill="#008000"/>
<path d="M749.6,324.2V334.2M744.6,324.2H754.6M744.6,334.2H754.6" stroke="#008000" stroke-width="1.6" fill="none"/><circle cx="749.6" cy="329.2" r="5" fill="#008000"/>
<path d="M764.9,328.83V338.97M759.9,328.83H769.9M759.9,338.97H769.9" stroke="#008000" stroke-width="1.6" fill="none"/><circle cx="764.9" cy="333.9" r="5" fill="#008000"/>
<path d="M779.7,327.05V337.35M774.7,327.05H784.7M774.7,337.35H784.7" stroke="#008000" stroke-width="1.6" fill="none"/><circle cx="779.7" cy="332.2" r="5" fill="#008000"/>
<path d="M795.3,327.37V337.83M790.3,327.37H800.3M790.3,337.83H800.3" stroke="#008000" stroke-width="1.6" fill="none"/><circle cx="795.3" cy="332.6" r="5" fill="#008000"/>
<path d="M810.4,317.3V327.9M805.4,317.3H815.4M805.4,327.9H815.4" stroke="#008000" stroke-width="1.6" fill="none"/><circle cx="810.4" cy="322.6" r="5" fill="#008000"/>
<path d="M826,339.92V350.68M821,339.92H831M821,350.68H831" stroke="#008000" stroke-width="1.6" fill="none"/><circle cx="826" cy="345.3" r="5" fill="#008000"/>
<path d="M841.4,338.84V349.76M836.4,338.84H846.4M836.4,349.76H846.4" stroke="#008000" stroke-width="1.6" fill="none"/><circle cx="841.4" cy="344.3" r="5" fill="#008000"/>
<path d="M856.5,352.37V363.43M851.5,352.37H861.5M851.5,363.43H861.5" stroke="#008000" stroke-width="1.6" fill="none"/><circle cx="856.5" cy="357.9" r="5" fill="#008000"/>
<path d="M872.1,331.69V342.91M867.1,331.69H877.1M867.1,342.91H877.1" stroke="#008000" stroke-width="1.6" fill="none"/><circle cx="872.1" cy="337.3" r="5" fill="#008000"/>
<path d="M887.1,345.01V356.39M882.1,345.01H892.1M882.1,356.39H892.1" stroke="#008000" stroke-width="1.6" fill="none"/><circle cx="887.1" cy="350.7" r="5" fill="#008000"/>
<path d="M903,341.94V353.46M898,341.94H908M898,353.46H908" stroke="#008000" stroke-width="1.6" fill="none"/><circle cx="903" cy="347.7" r="5" fill="#008000"/>
<path d="M918,350.46V362.14M913,350.46H923M913,362.14H923" stroke="#008000" stroke-width="1.6" fill="none"/><circle cx="918" cy="356.3" r="5" fill="#008000"/>
<path d="M933.1,340.38V352.22M928.1,340.38H938.1M928.1,352.22H938.1" stroke="#008000" stroke-width="1.6" fill="none"/><circle cx="933.1" cy="346.3" r="5" fill="#008000"/>
<path d="M948.7,351.91V363.89M943.7,351.91H953.7M943.7,363.89H953.7" stroke="#008000" stroke-width="1.6" fill="none"/><circle cx="948.7" cy="357.9" r="5" fill="#008000"/>
<path d="M964.1,353.83V365.97M959.1,353.83H969.1M959.1,365.97H969.1" stroke="#008000" stroke-width="1.6" fill="none"/><circle cx="964.1" cy="359.9" r="5" fill="#008000"/>
<path d="M979.6,355.15V367.45M974.6,355.15H984.6M974.6,367.45H984.6" stroke="#008000" stroke-width="1.6" fill="none"/><circle cx="979.6" cy="361.3" r="5" fill="#008000"/>
<path d="M994.6,334.08V346.52M989.6,334.08H999.6M989.6,346.52H999.6" stroke="#008000" stroke-width="1.6" fill="none"/><circle cx="994.6" cy="340.3" r="5" fill="#008000"/>
<path d="M1009.6,360.6V373.2M1004.6,360.6H1014.6M1004.6,373.2H1014.6" stroke="#008000" stroke-width="1.6" fill="none"/><circle cx="1009.6" cy="366.9" r="5" fill="#008000"/>
<path d="M1025.3,347.52V360.28M1020.3,347.52H1030.3M1020.3,360.28H1030.3" stroke="#008000" stroke-width="1.6" fill="none"/><circle cx="1025.3" cy="353.9" r="5" fill="#008000"/>
<path d="M1040.3,353.45V366.35M1035.3,353.45H1045.3M1035.3,366.35H1045.3" stroke="#008000" stroke-width="1.6" fill="none"/><circle cx="1040.3" cy="359.9" r="5" fill="#008000"/>
<path d="M1055.7,349.77V362.83M1050.7,349.77H1060.7M1050.7,362.83H1060.7" stroke="#008000" stroke-width="1.6" fill="none"/><circle cx="1055.7" cy="356.3" r="5" fill="#008000"/>
<path d="M1071,354.69V367.91M1066,354.69H1076M1066,367.91H1076" stroke="#008000" stroke-width="1.6" fill="none"/><circle cx="1071" cy="361.3" r="5" fill="#008000"/>
<path d="M1086.4,349.62V362.98M1081.4,349.62H1091.4M1081.4,362.98H1091.4" stroke="#008000" stroke-width="1.6" fill="none"/><circle cx="1086.4" cy="356.3" r="5" fill="#008000"/>
<path d="M1101.8,365.54V379.06M1096.8,365.54H1106.8M1096.8,379.06H1106.8" stroke="#008000" stroke-width="1.6" fill="none"/><circle cx="1101.8" cy="372.3" r="5" fill="#008000"/>
<path d="M1117.1,349.86V363.54M1112.1,349.86H1122.1M1112.1,363.54H1122.1" stroke="#008000" stroke-width="1.6" fill="none"/><circle cx="1117.1" cy="356.7" r="5" fill="#008000"/>
<path d="M1132.1,351.39V365.21M1127.1,351.39H1137.1M1127.1,365.21H1137.1" stroke="#008000" stroke-width="1.6" fill="none"/><circle cx="1132.1" cy="358.3" r="5" fill="#008000"/>
<path d="M1147.5,349.91V363.89M1142.5,349.91H1152.5M1142.5,363.89H1152.5" stroke="#008000" stroke-width="1.6" fill="none"/><circle cx="1147.5" cy="356.9" r="5" fill="#008000"/>
<path d="M1163,349.83V363.96M1158,349.83H1168M1158,363.96H1168" stroke="#008000" stroke-width="1.6" fill="none"/><circle cx="1163" cy="356.9" r="5" fill="#008000"/>
<path d="M657.4,102.26V109.94M652.4,102.26H662.4M652.4,109.94H662.4" stroke="#808000" stroke-width="1.6" fill="none"/><circle cx="657.4" cy="106.1" r="5" fill="#808000"/>
<path d="M673.1,135.98V143.82M668.1,135.98H678.1M668.1,143.82H678.1" stroke="#808000" stroke-width="1.6" fill="none"/><circle cx="673.1" cy="139.9" r="5" fill="#808000"/>
<path d="M688.3,156.21V164.19M683.3,156.21H693.3M683.3,164.19H693.3" stroke="#808000" stroke-width="1.6" fill="none"/><circle cx="688.3" cy="160.2" r="5" fill="#808000"/>
<path d="M703.6,174.53V182.67M698.6,174.53H708.6M698.6,182.67H708.6" stroke="#808000" stroke-width="1.6" fill="none"/><circle cx="703.6" cy="178.6" r="5" fill="#808000"/>
<path d="M718.8,188.56V196.84M713.8,188.56H723.8M713.8,196.84H723.8" stroke="#808000" stroke-width="1.6" fill="none"/><circle cx="718.8" cy="192.7" r="5" fill="#808000"/>
<path d="M733.8,196.48V204.92M728.8,196.48H738.8M728.8,204.92H738.8" stroke="#808000" stroke-width="1.6" fill="none"/><circle cx="733.8" cy="200.7" r="5" fill="#808000"/>
<path d="M749.8,211.4V220M744.8,211.4H754.8M744.8,220H754.8" stroke="#808000" stroke-width="1.6" fill="none"/><circle cx="749.8" cy="215.7" r="5" fill="#808000"/>
<path d="M764.5,212.33V221.07M759.5,212.33H769.5M759.5,221.07H769.5" stroke="#808000" stroke-width="1.6" fill="none"/><circle cx="764.5" cy="216.7" r="5" fill="#808000"/>
<path d="M779.3,229.55V238.45M774.3,229.55H784.3M774.3,238.45H784.3" stroke="#808000" stroke-width="1.6" fill="none"/><circle cx="779.3" cy="234" r="5" fill="#808000"/>
<path d="M795.3,225.47V234.53M790.3,225.47H800.3M790.3,234.53H800.3" stroke="#808000" stroke-width="1.6" fill="none"/><circle cx="795.3" cy="230" r="5" fill="#808000"/>
<path d="M810.4,238V247.2M805.4,238H815.4M805.4,247.2H815.4" stroke="#808000" stroke-width="1.6" fill="none"/><circle cx="810.4" cy="242.6" r="5" fill="#808000"/>
<path d="M826,241.82V251.18M821,241.82H831M821,251.18H831" stroke="#808000" stroke-width="1.6" fill="none"/><circle cx="826" cy="246.5" r="5" fill="#808000"/>
<path d="M841.4,251.94V261.46M836.4,251.94H846.4M836.4,261.46H846.4" stroke="#808000" stroke-width="1.6" fill="none"/><circle cx="841.4" cy="256.7" r="5" fill="#808000"/>
<path d="M856.5,246.27V255.93M851.5,246.27H861.5M851.5,255.93H861.5" stroke="#808000" stroke-width="1.6" fill="none"/><circle cx="856.5" cy="251.1" r="5" fill="#808000"/>
<path d="M872.1,261.19V271.01M867.1,261.19H877.1M867.1,271.01H877.1" stroke="#808000" stroke-width="1.6" fill="none"/><circle cx="872.1" cy="266.1" r="5" fill="#808000"/>
<path d="M887.1,265.71V275.69M882.1,265.71H892.1M882.1,275.69H892.1" stroke="#808000" stroke-width="1.6" fill="none"/><circle cx="887.1" cy="270.7" r="5" fill="#808000"/>
<path d="M903,269.04V279.17M898,269.04H908M898,279.17H908" stroke="#808000" stroke-width="1.6" fill="none"/><circle cx="903" cy="274.1" r="5" fill="#808000"/>
<path d="M918,267.96V278.24M913,267.96H923M913,278.24H923" stroke="#808000" stroke-width="1.6" fill="none"/><circle cx="918" cy="273.1" r="5" fill="#808000"/>
<path d="M933.1,279.88V290.32M928.1,279.88H938.1M928.1,290.32H938.1" stroke="#808000" stroke-width="1.6" fill="none"/><circle cx="933.1" cy="285.1" r="5" fill="#808000"/>
<path d="M948.7,280.41V290.99M943.7,280.41H953.7M943.7,290.99H953.7" stroke="#808000" stroke-width="1.6" fill="none"/><circle cx="948.7" cy="285.7" r="5" fill="#808000"/>
<path d="M964.1,295.83V306.57M959.1,295.83H969.1M959.1,306.57H969.1" stroke="#808000" stroke-width="1.6" fill="none"/><circle cx="964.1" cy="301.2" r="5" fill="#808000"/>
<path d="M979.6,283.75V294.65M974.6,283.75H984.6M974.6,294.65H984.6" stroke="#808000" stroke-width="1.6" fill="none"/><circle cx="979.6" cy="289.2" r="5" fill="#808000"/>
<path d="M994.6,286.68V297.72M989.6,286.68H999.6M989.6,297.72H999.6" stroke="#808000" stroke-width="1.6" fill="none"/><circle cx="994.6" cy="292.2" r="5" fill="#808000"/>
<path d="M1009.6,299.6V310.8M1004.6,299.6H1014.6M1004.6,310.8H1014.6" stroke="#808000" stroke-width="1.6" fill="none"/><circle cx="1009.6" cy="305.2" r="5" fill="#808000"/>
<path d="M1025.3,294.52V305.88M1020.3,294.52H1030.3M1020.3,305.88H1030.3" stroke="#808000" stroke-width="1.6" fill="none"/><circle cx="1025.3" cy="300.2" r="5" fill="#808000"/>
<path d="M1040.3,304.45V315.95M1035.3,304.45H1045.3M1035.3,315.95H1045.3" stroke="#808000" stroke-width="1.6" fill="none"/><circle cx="1040.3" cy="310.2" r="5" fill="#808000"/>
<path d="M1055.7,309.37V321.03M1050.7,309.37H1060.7M1050.7,321.03H1060.7" stroke="#808000" stroke-width="1.6" fill="none"/><circle cx="1055.7" cy="315.2" r="5" fill="#808000"/>
<path d="M1071,310.7V322.5M1066,310.7H1076M1066,322.5H1076" stroke="#808000" stroke-width="1.6" fill="none"/><circle cx="1071" cy="316.6" r="5" fill="#808000"/>
<path d="M1086.4,307.22V319.18M1081.4,307.22H1091.4M1081.4,319.18H1091.4" stroke="#808000" stroke-width="1.6" fill="none"/><circle cx="1086.4" cy="313.2" r="5" fill="#808000"/>
<path d="M1101.8,316.14V328.26M1096.8,316.14H1106.8M1096.8,328.26H1106.8" stroke="#808000" stroke-width="1.6" fill="none"/><circle cx="1101.8" cy="322.2" r="5" fill="#808000"/>
<path d="M1117.1,311.66V323.94M1112.1,311.66H1122.1M1112.1,323.94H1122.1" stroke="#808000" stroke-width="1.6" fill="none"/><circle cx="1117.1" cy="317.8" r="5" fill="#808000"/>
<path d="M1132.1,318.99V331.41M1127.1,318.99H1137.1M1127.1,331.41H1137.1" stroke="#808000" stroke-width="1.6" fill="none"/><circle cx="1132.1" cy="325.2" r="5" fill="#808000"/>
<path d="M1147.5,310.31V322.89M1142.5,310.31H1152.5M1142.5,322.89H1152.5" stroke="#808000" stroke-width="1.6" fill="none"/><circle cx="1147.5" cy="316.6" r="5" fill="#808000"/>
<path d="M1163,314.83V327.56M1158,314.83H1168M1158,327.56H1168" stroke="#808000" stroke-width="1.6" fill="none"/><circle cx="1163" cy="321.2" r="5" fill="#808000"/>
<path d="M673,54.88V62.71M668,54.88H678M668,62.71H678" stroke="#800000" stroke-width="1.6" fill="none"/><circle cx="673" cy="58.8" r="5" fill="#800000"/>
<path d="M688,53.21V61.19M683,53.21H693M683,61.19H693" stroke="#800000" stroke-width="1.6" fill="none"/><circle cx="688" cy="57.2" r="5" fill="#800000"/>
<path d="M703.7,63.73V71.87M698.7,63.73H708.7M698.7,71.87H708.7" stroke="#800000" stroke-width="1.6" fill="none"/><circle cx="703.7" cy="67.8" r="5" fill="#800000"/>
<path d="M718.3,69.36V77.64M713.3,69.36H723.3M713.3,77.64H723.3" stroke="#800000" stroke-width="1.6" fill="none"/><circle cx="718.3" cy="73.5" r="5" fill="#800000"/>
<path d="M733.8,79.28V87.72M728.8,79.28H738.8M728.8,87.72H738.8" stroke="#800000" stroke-width="1.6" fill="none"/><circle cx="733.8" cy="83.5" r="5" fill="#800000"/>
<path d="M749.8,84.1V92.7M744.8,84.1H754.8M744.8,92.7H754.8" stroke="#800000" stroke-width="1.6" fill="none"/><circle cx="749.8" cy="88.4" r="5" fill="#800000"/>
<path d="M764.5,87.33V96.07M759.5,87.33H769.5M759.5,96.07H769.5" stroke="#800000" stroke-width="1.6" fill="none"/><circle cx="764.5" cy="91.7" r="5" fill="#800000"/>
<path d="M779.7,87.25V96.15M774.7,87.25H784.7M774.7,96.15H784.7" stroke="#800000" stroke-width="1.6" fill="none"/><circle cx="779.7" cy="91.7" r="5" fill="#800000"/>
<path d="M795.3,107.17V116.23M790.3,107.17H800.3M790.3,116.23H800.3" stroke="#800000" stroke-width="1.6" fill="none"/><circle cx="795.3" cy="111.7" r="5" fill="#800000"/>
<path d="M810.6,109V118.2M805.6,109H815.6M805.6,118.2H815.6" stroke="#800000" stroke-width="1.6" fill="none"/><circle cx="810.6" cy="113.6" r="5" fill="#800000"/>
<path d="M826,107.92V117.28M821,107.92H831M821,117.28H831" stroke="#800000" stroke-width="1.6" fill="none"/><circle cx="826" cy="112.6" r="5" fill="#800000"/>
<path d="M841.2,121.14V130.66M836.2,121.14H846.2M836.2,130.66H846.2" stroke="#800000" stroke-width="1.6" fill="none"/><circle cx="841.2" cy="125.9" r="5" fill="#800000"/>
<path d="M856.2,113.27V122.93M851.2,113.27H861.2M851.2,122.93H861.2" stroke="#800000" stroke-width="1.6" fill="none"/><circle cx="856.2" cy="118.1" r="5" fill="#800000"/>
<path d="M872.1,125.89V135.71M867.1,125.89H877.1M867.1,135.71H877.1" stroke="#800000" stroke-width="1.6" fill="none"/><circle cx="872.1" cy="130.8" r="5" fill="#800000"/>
<path d="M887.1,129.31V139.29M882.1,129.31H892.1M882.1,139.29H892.1" stroke="#800000" stroke-width="1.6" fill="none"/><circle cx="887.1" cy="134.3" r="5" fill="#800000"/>
<path d="M903.1,135.83V145.97M898.1,135.83H908.1M898.1,145.97H908.1" stroke="#800000" stroke-width="1.6" fill="none"/><circle cx="903.1" cy="140.9" r="5" fill="#800000"/>
<path d="M918.3,135.36V145.64M913.3,135.36H923.3M913.3,145.64H923.3" stroke="#800000" stroke-width="1.6" fill="none"/><circle cx="918.3" cy="140.5" r="5" fill="#800000"/>
<path d="M933.3,137.88V148.32M928.3,137.88H938.3M928.3,148.32H938.3" stroke="#800000" stroke-width="1.6" fill="none"/><circle cx="933.3" cy="143.1" r="5" fill="#800000"/>
<path d="M948.9,145.01V155.59M943.9,145.01H953.9M943.9,155.59H953.9" stroke="#800000" stroke-width="1.6" fill="none"/><circle cx="948.9" cy="150.3" r="5" fill="#800000"/>
<path d="M963.6,150.83V161.57M958.6,150.83H968.6M958.6,161.57H968.6" stroke="#800000" stroke-width="1.6" fill="none"/><circle cx="963.6" cy="156.2" r="5" fill="#800000"/>
<path d="M979.2,167.85V178.75M974.2,167.85H984.2M974.2,178.75H984.2" stroke="#800000" stroke-width="1.6" fill="none"/><circle cx="979.2" cy="173.3" r="5" fill="#800000"/>
<path d="M994.4,157.08V168.12M989.4,157.08H999.4M989.4,168.12H999.4" stroke="#800000" stroke-width="1.6" fill="none"/><circle cx="994.4" cy="162.6" r="5" fill="#800000"/>
<path d="M1009.8,166.6V177.8M1004.8,166.6H1014.8M1004.8,177.8H1014.8" stroke="#800000" stroke-width="1.6" fill="none"/><circle cx="1009.8" cy="172.2" r="5" fill="#800000"/>
<path d="M1025.1,171.92V183.28M1020.1,171.92H1030.1M1020.1,183.28H1030.1" stroke="#800000" stroke-width="1.6" fill="none"/><circle cx="1025.1" cy="177.6" r="5" fill="#800000"/>
<path d="M1040.3,187.15V198.65M1035.3,187.15H1045.3M1035.3,198.65H1045.3" stroke="#800000" stroke-width="1.6" fill="none"/><circle cx="1040.3" cy="192.9" r="5" fill="#800000"/>
<path d="M1055.3,170.87V182.53M1050.3,170.87H1060.3M1050.3,182.53H1060.3" stroke="#800000" stroke-width="1.6" fill="none"/><circle cx="1055.3" cy="176.7" r="5" fill="#800000"/>
<path d="M1071,182.5V194.31M1066,182.5H1076M1066,194.31H1076" stroke="#800000" stroke-width="1.6" fill="none"/><circle cx="1071" cy="188.4" r="5" fill="#800000"/>
<path d="M1086.2,190.22V202.18M1081.2,190.22H1091.2M1081.2,202.18H1091.2" stroke="#800000" stroke-width="1.6" fill="none"/><circle cx="1086.2" cy="196.2" r="5" fill="#800000"/>
<path d="M1102.2,183.34V195.46M1097.2,183.34H1107.2M1097.2,195.46H1107.2" stroke="#800000" stroke-width="1.6" fill="none"/><circle cx="1102.2" cy="189.4" r="5" fill="#800000"/>
<path d="M1117.2,191.06V203.34M1112.2,191.06H1122.2M1112.2,203.34H1122.2" stroke="#800000" stroke-width="1.6" fill="none"/><circle cx="1117.2" cy="197.2" r="5" fill="#800000"/>
<path d="M1132.1,205.19V217.61M1127.1,205.19H1137.1M1127.1,217.61H1137.1" stroke="#800000" stroke-width="1.6" fill="none"/><circle cx="1132.1" cy="211.4" r="5" fill="#800000"/>
<path d="M1147.7,190.91V203.49M1142.7,190.91H1152.7M1142.7,203.49H1152.7" stroke="#800000" stroke-width="1.6" fill="none"/><circle cx="1147.7" cy="197.2" r="5" fill="#800000"/>
<path d="M1162.7,209.34V222.06M1157.7,209.34H1167.7M1157.7,222.06H1167.7" stroke="#800000" stroke-width="1.6" fill="none"/><circle cx="1162.7" cy="215.7" r="5" fill="#800000"/>
</g>
<rect x="649.2" y="44.6" width="522.6" height="367.6" fill="none" stroke="#000" stroke-width="1.6"/>
<path d="M649.2,412.2V406.2M662.28,412.2V406.2M675.35,412.2V406.2M688.43,412.2V406.2M701.5,412.2V406.2M714.58,412.2V406.2M727.65,412.2V406.2M740.73,412.2V406.2M753.8,412.2V406.2M766.88,412.2V406.2M779.95,412.2V406.2M793.03,412.2V406.2M806.1,412.2V406.2M819.18,412.2V406.2M832.25,412.2V406.2M845.33,412.2V406.2M858.4,412.2V406.2M871.48,412.2V406.2M884.55,412.2V406.2M897.62,412.2V406.2M910.7,412.2V406.2M923.78,412.2V406.2M936.85,412.2V406.2M949.93,412.2V406.2M963,412.2V406.2M976.08,412.2V406.2M989.15,412.2V406.2M1002.23,412.2V406.2M1015.3,412.2V406.2M1028.38,412.2V406.2M1041.45,412.2V406.2M1054.53,412.2V406.2M1067.6,412.2V406.2M1080.68,412.2V406.2M1093.75,412.2V406.2M1106.83,412.2V406.2M1119.9,412.2V406.2M1132.98,412.2V406.2M1146.05,412.2V406.2M1159.12,412.2V406.2M1172.2,412.2V406.2M649.2,412.2V401.7M701.5,412.2V401.7M753.8,412.2V401.7M806.1,412.2V401.7M858.4,412.2V401.7M910.7,412.2V401.7M963,412.2V401.7M1015.3,412.2V401.7M1067.6,412.2V401.7M1119.9,412.2V401.7M1172.2,412.2V401.7" stroke="#000" stroke-width="1.6" fill="none"/>
<path d="M649.2,405.4H655.2M649.2,376.54H655.2M649.2,347.68H655.2M649.2,318.82H655.2M649.2,289.96H655.2M649.2,261.1H655.2M649.2,232.24H655.2M649.2,203.38H655.2M649.2,174.52H655.2M649.2,145.66H655.2M649.2,116.8H655.2M649.2,87.94H655.2M649.2,59.08H655.2M649.2,405.4H659.7M649.2,261.1H659.7M649.2,116.8H659.7" stroke="#000" stroke-width="1.6" fill="none"/>
<text x="649.2" y="437.9" font-size="22" text-anchor="middle">0</text>
<text x="701.5" y="437.9" font-size="22" text-anchor="middle">0.2</text>
<text x="753.8" y="437.9" font-size="22" text-anchor="middle">0.4</text>
<text x="806.1" y="437.9" font-size="22" text-anchor="middle">0.6</text>
<text x="858.4" y="437.9" font-size="22" text-anchor="middle">0.8</text>
<text x="910.7" y="437.9" font-size="22" text-anchor="middle">1</text>
<text x="963" y="437.9" font-size="22" text-anchor="middle">1.2</text>
<text x="1015.3" y="437.9" font-size="22" text-anchor="middle">1.4</text>
<text x="1067.6" y="437.9" font-size="22" text-anchor="middle">1.6</text>
<text x="1119.9" y="437.9" font-size="22" text-anchor="middle">1.8</text>
<text x="1172.2" y="437.9" font-size="22" text-anchor="middle">2</text>
<text x="642.2" y="412.8" font-size="22" text-anchor="end">0</text>
<text x="642.2" y="268.5" font-size="22" text-anchor="end">0.1</text>
<text x="642.2" y="124.2" font-size="22" text-anchor="end">0.2</text>
<text transform="translate(605.5,229.6) rotate(-90)" text-anchor="middle" font-size="40.4">Asymmetry</text>
<text x="909.8" y="481.6" font-size="40.5" text-anchor="middle">time (&#956;s)</text>
<text x="1007" y="85.9" font-size="33.5" letter-spacing="-0.55">Co<tspan font-size="21.5" dy="5.6">7</tspan><tspan dy="-5.6">Zn</tspan><tspan font-size="21.5" dy="5.6">7</tspan><tspan dy="-5.6">Mn</tspan><tspan font-size="21.5" dy="5.6">6</tspan></text>
<text x="1184" y="71.6" font-size="24.6"><tspan font-style="italic">H</tspan> = 0</text>
<circle cx="1207.5" cy="92" r="4.9" fill="#000080"/>
<text x="1241" y="99.4" font-size="24.6">5 K</text>
<circle cx="1207.5" cy="120.6" r="4.9" fill="#008080"/>
<text x="1241" y="128" font-size="24.6">45 K</text>
<circle cx="1207.5" cy="149.2" r="4.9" fill="#008000"/>
<text x="1241" y="156.6" font-size="24.6">100 K</text>
<circle cx="1207.5" cy="177.8" r="4.9" fill="#808000"/>
<text x="1241" y="185.2" font-size="24.6">160 K</text>
<circle cx="1207.5" cy="206.4" r="4.9" fill="#800000"/>
<text x="1241" y="213.8" font-size="24.6">190 K</text>
<g clip-path="url(#ce)">
<path d="M650.8,753.5 C651.17,754.33 651.92,756.82 653,758.5 C654.08,760.18 654.67,761.32 657.3,763.6 C659.93,765.88 664.48,769.8 668.8,772.2 C673.12,774.6 677.15,776.17 683.2,778 C689.25,779.83 694.77,781 705.1,783.2 C715.43,785.4 728.48,788.7 745.2,791.2 C761.92,793.7 785.35,796.2 805.4,798.2 C825.45,800.2 847.23,801.83 865.5,803.2 C883.77,804.57 895.05,805.23 915,806.4 C934.95,807.57 960.13,808.82 985.2,810.2 C1010.27,811.58 1034.53,813.25 1065.4,814.7 C1096.27,816.15 1152.9,818.2 1170.4,818.9" fill="none" stroke="#000080" stroke-width="2.9" stroke-linejoin="round"/>
<path d="M650.8,757.8 C651.17,758.58 651.92,760.82 653,762.5 C654.08,764.18 654.67,765.57 657.3,767.9 C659.93,770.23 664.48,773.87 668.8,776.5 C673.12,779.13 677.15,781.58 683.2,783.7 C689.25,785.82 694.77,786.78 705.1,789.2 C715.43,791.62 728.48,794.87 745.2,798.2 C761.92,801.53 785.35,806.35 805.4,809.2 C825.45,812.05 847.23,813.63 865.5,815.3 C883.77,816.97 895.05,817.83 915,819.2 C934.95,820.57 960.13,822.15 985.2,823.5 C1010.27,824.85 1034.53,826.07 1065.4,827.3 C1096.27,828.53 1152.9,830.3 1170.4,830.9" fill="none" stroke="#008080" stroke-width="2.9" stroke-linejoin="round"/>
<path d="M651.2,675.1 C651.23,682.58 651.27,707.18 651.4,720 C651.53,732.82 651.7,744.5 652,752 C652.3,759.5 652.57,760.67 653.2,765 C653.83,769.33 654.88,774.88 655.8,778 C656.72,781.12 656.53,781.3 658.7,783.7 C660.87,786.1 665.92,790 668.8,792.4 C671.68,794.8 672.47,796.08 676,798.1 C679.53,800.12 685.15,802.4 690,804.5 C694.85,806.6 695.9,807.9 705.1,810.7 C714.3,813.5 728.48,818.03 745.2,821.3 C761.92,824.57 785.35,827.97 805.4,830.3 C825.45,832.63 847.23,834.08 865.5,835.3 C883.77,836.52 895.05,836.83 915,837.6 C934.95,838.37 960.13,839.18 985.2,839.9 C1010.27,840.62 1034.53,841.23 1065.4,841.9 C1096.27,842.57 1152.9,843.57 1170.4,843.9" fill="none" stroke="#008000" stroke-width="2.9" stroke-linejoin="round"/>
<path d="M650.8,542.9 C653.43,543.5 660.37,544.7 666.6,546.5 C672.83,548.3 682.2,551.3 688.2,553.7 C694.2,556.1 697.8,558.25 702.6,560.9 C707.4,563.55 712.22,566.6 717,569.6 C721.78,572.6 726.52,575.78 731.3,578.9 C736.08,582.02 740.9,585.18 745.7,588.3 C750.5,591.42 755.3,594.48 760.1,597.6 C764.9,600.72 769.7,604 774.5,607 C779.3,610 784.1,612.9 788.9,615.6 C793.7,618.3 798.5,620.68 803.3,623.2 C808.1,625.72 812.9,628.37 817.7,630.7 C822.5,633.03 827.32,635.17 832.1,637.2 C836.88,639.23 841.62,641.05 846.4,642.9 C851.18,644.75 856,646.62 860.8,648.3 C865.6,649.98 870.33,651.52 875.2,653 C880.07,654.48 885.03,655.93 890,657.2 C894.97,658.47 897.5,659.22 905,660.6 C912.5,661.98 925.23,663.9 935,665.5 C944.77,667.1 954.1,668.82 963.6,670.2 C973.1,671.58 982.25,672.67 992,673.8 C1001.75,674.93 1012.43,676 1022.1,677 C1031.77,678 1040.23,678.88 1050,679.8 C1059.77,680.72 1068.2,681.5 1080.7,682.5 C1093.2,683.5 1110.05,684.75 1125,685.8 C1139.95,686.85 1162.83,688.3 1170.4,688.8" fill="none" stroke="#808000" stroke-width="2.9" stroke-linejoin="round"/>
<path d="M650.8,542.9 C653.67,543.67 661.77,545.82 668,547.5 C674.23,549.18 681.2,551.05 688.2,553 C695.2,554.95 702.82,557.15 710,559.2 C717.18,561.25 724.13,563.32 731.3,565.3 C738.47,567.28 745.8,569.18 753,571.1 C760.2,573.02 767.33,574.83 774.5,576.8 C781.67,578.77 788.8,580.87 796,582.9 C803.2,584.93 810.53,587.13 817.7,589 C824.87,590.87 831.82,592.42 839,594.1 C846.18,595.78 853.13,597.2 860.8,599.1 C868.47,601 877.63,603.63 885,605.5 C892.37,607.37 896.67,608.13 905,610.3 C913.33,612.47 925.23,615.83 935,618.5 C944.77,621.17 954.1,623.68 963.6,626.3 C973.1,628.92 982.25,631.6 992,634.2 C1001.75,636.8 1012.43,639.35 1022.1,641.9 C1031.77,644.45 1040.23,646.9 1050,649.5 C1059.77,652.1 1068.2,654.33 1080.7,657.5 C1093.2,660.67 1110.05,664.88 1125,668.5 C1139.95,672.12 1162.83,677.42 1170.4,679.2" fill="none" stroke="#800000" stroke-width="2.9" stroke-linejoin="round"/>
<path d="M658.6,764.66V774.34M653.6,764.66H663.6M653.6,774.34H663.6" stroke="#000080" stroke-width="1.6" fill="none"/><circle cx="658.6" cy="769.5" r="5" fill="#000080"/>
<path d="M673.5,770.6V780.4M668.5,770.6H678.5M668.5,780.4H678.5" stroke="#000080" stroke-width="1.6" fill="none"/><circle cx="673.5" cy="775.5" r="5" fill="#000080"/>
<path d="M689.3,783.53V793.47M684.3,783.53H694.3M684.3,793.47H694.3" stroke="#000080" stroke-width="1.6" fill="none"/><circle cx="689.3" cy="788.5" r="5" fill="#000080"/>
<path d="M704.5,770.17V780.23M699.5,770.17H709.5M699.5,780.23H709.5" stroke="#000080" stroke-width="1.6" fill="none"/><circle cx="704.5" cy="775.2" r="5" fill="#000080"/>
<path d="M719.6,785.11V795.29M714.6,785.11H724.6M714.6,795.29H724.6" stroke="#000080" stroke-width="1.6" fill="none"/><circle cx="719.6" cy="790.2" r="5" fill="#000080"/>
<path d="M734.6,790.64V800.96M729.6,790.64H739.6M729.6,800.96H739.6" stroke="#000080" stroke-width="1.6" fill="none"/><circle cx="734.6" cy="795.8" r="5" fill="#000080"/>
<path d="M749.6,776.98V787.42M744.6,776.98H754.6M744.6,787.42H754.6" stroke="#000080" stroke-width="1.6" fill="none"/><circle cx="749.6" cy="782.2" r="5" fill="#000080"/>
<path d="M764.9,777.91V788.49M759.9,777.91H769.9M759.9,788.49H769.9" stroke="#000080" stroke-width="1.6" fill="none"/><circle cx="764.9" cy="783.2" r="5" fill="#000080"/>
<path d="M779.9,792.85V803.55M774.9,792.85H784.9M774.9,803.55H784.9" stroke="#000080" stroke-width="1.6" fill="none"/><circle cx="779.9" cy="798.2" r="5" fill="#000080"/>
<path d="M795.7,784.38V795.22M790.7,784.38H800.7M790.7,795.22H800.7" stroke="#000080" stroke-width="1.6" fill="none"/><circle cx="795.7" cy="789.8" r="5" fill="#000080"/>
<path d="M811,791.12V802.08M806,791.12H816M806,802.08H816" stroke="#000080" stroke-width="1.6" fill="none"/><circle cx="811" cy="796.6" r="5" fill="#000080"/>
<path d="M826.4,798.65V809.75M821.4,798.65H831.4M821.4,809.75H831.4" stroke="#000080" stroke-width="1.6" fill="none"/><circle cx="826.4" cy="804.2" r="5" fill="#000080"/>
<path d="M841.4,789.59V800.81M836.4,789.59H846.4M836.4,800.81H846.4" stroke="#000080" stroke-width="1.6" fill="none"/><circle cx="841.4" cy="795.2" r="5" fill="#000080"/>
<path d="M856.5,795.53V806.87M851.5,795.53H861.5M851.5,806.87H861.5" stroke="#000080" stroke-width="1.6" fill="none"/><circle cx="856.5" cy="801.2" r="5" fill="#000080"/>
<path d="M871.5,787.86V799.34M866.5,787.86H876.5M866.5,799.34H876.5" stroke="#000080" stroke-width="1.6" fill="none"/><circle cx="871.5" cy="793.6" r="5" fill="#000080"/>
<path d="M887.5,778.8V790.4M882.5,778.8H892.5M882.5,790.4H892.5" stroke="#000080" stroke-width="1.6" fill="none"/><circle cx="887.5" cy="784.6" r="5" fill="#000080"/>
<path d="M903,811.03V822.77M898,811.03H908M898,822.77H908" stroke="#000080" stroke-width="1.6" fill="none"/><circle cx="903" cy="816.9" r="5" fill="#000080"/>
<path d="M918,797.87V809.73M913,797.87H923M913,809.73H923" stroke="#000080" stroke-width="1.6" fill="none"/><circle cx="918" cy="803.8" r="5" fill="#000080"/>
<path d="M933.1,811.3V823.3M928.1,811.3H938.1M928.1,823.3H938.1" stroke="#000080" stroke-width="1.6" fill="none"/><circle cx="933.1" cy="817.3" r="5" fill="#000080"/>
<path d="M948.1,792.14V804.26M943.1,792.14H953.1M943.1,804.26H953.1" stroke="#000080" stroke-width="1.6" fill="none"/><circle cx="948.1" cy="798.2" r="5" fill="#000080"/>
<path d="M963.1,795.68V807.92M958.1,795.68H968.1M958.1,807.92H968.1" stroke="#000080" stroke-width="1.6" fill="none"/><circle cx="963.1" cy="801.8" r="5" fill="#000080"/>
<path d="M978.2,802.41V814.79M973.2,802.41H983.2M973.2,814.79H983.2" stroke="#000080" stroke-width="1.6" fill="none"/><circle cx="978.2" cy="808.6" r="5" fill="#000080"/>
<path d="M994.2,801.54V814.06M989.2,801.54H999.2M989.2,814.06H999.2" stroke="#000080" stroke-width="1.6" fill="none"/><circle cx="994.2" cy="807.8" r="5" fill="#000080"/>
<path d="M1009.2,803.48V816.12M1004.2,803.48H1014.2M1004.2,816.12H1014.2" stroke="#000080" stroke-width="1.6" fill="none"/><circle cx="1009.2" cy="809.8" r="5" fill="#000080"/>
<path d="M1024.3,819.62V832.38M1019.3,819.62H1029.3M1019.3,832.38H1029.3" stroke="#000080" stroke-width="1.6" fill="none"/><circle cx="1024.3" cy="826" r="5" fill="#000080"/>
<path d="M1039.3,801.35V814.25M1034.3,801.35H1044.3M1034.3,814.25H1044.3" stroke="#000080" stroke-width="1.6" fill="none"/><circle cx="1039.3" cy="807.8" r="5" fill="#000080"/>
<path d="M1054.3,811.79V824.81M1049.3,811.79H1059.3M1049.3,824.81H1059.3" stroke="#000080" stroke-width="1.6" fill="none"/><circle cx="1054.3" cy="818.3" r="5" fill="#000080"/>
<path d="M1069.8,814.72V827.88M1064.8,814.72H1074.8M1064.8,827.88H1074.8" stroke="#000080" stroke-width="1.6" fill="none"/><circle cx="1069.8" cy="821.3" r="5" fill="#000080"/>
<path d="M1085.4,803.16V816.44M1080.4,803.16H1090.4M1080.4,816.44H1090.4" stroke="#000080" stroke-width="1.6" fill="none"/><circle cx="1085.4" cy="809.8" r="5" fill="#000080"/>
<path d="M1100.4,810.19V823.61M1095.4,810.19H1105.4M1095.4,823.61H1105.4" stroke="#000080" stroke-width="1.6" fill="none"/><circle cx="1100.4" cy="816.9" r="5" fill="#000080"/>
<path d="M1115.5,809.13V822.67M1110.5,809.13H1120.5M1110.5,822.67H1120.5" stroke="#000080" stroke-width="1.6" fill="none"/><circle cx="1115.5" cy="815.9" r="5" fill="#000080"/>
<path d="M1130.9,822.47V836.13M1125.9,822.47H1135.9M1125.9,836.13H1135.9" stroke="#000080" stroke-width="1.6" fill="none"/><circle cx="1130.9" cy="829.3" r="5" fill="#000080"/>
<path d="M1146.1,818.4V832.2M1141.1,818.4H1151.1M1141.1,832.2H1151.1" stroke="#000080" stroke-width="1.6" fill="none"/><circle cx="1146.1" cy="825.3" r="5" fill="#000080"/>
<path d="M1161.6,829.94V843.86M1156.6,829.94H1166.6M1156.6,843.86H1166.6" stroke="#000080" stroke-width="1.6" fill="none"/><circle cx="1161.6" cy="836.9" r="5" fill="#000080"/>
<path d="M658.6,747.46V757.14M653.6,747.46H663.6M653.6,757.14H663.6" stroke="#008080" stroke-width="1.6" fill="none"/><circle cx="658.6" cy="752.3" r="5" fill="#008080"/>
<path d="M673.4,772.4V782.2M668.4,772.4H678.4M668.4,782.2H678.4" stroke="#008080" stroke-width="1.6" fill="none"/><circle cx="673.4" cy="777.3" r="5" fill="#008080"/>
<path d="M689.2,764.73V774.67M684.2,764.73H694.2M684.2,774.67H694.2" stroke="#008080" stroke-width="1.6" fill="none"/><circle cx="689.2" cy="769.7" r="5" fill="#008080"/>
<path d="M704.5,774.17V784.23M699.5,774.17H709.5M699.5,784.23H709.5" stroke="#008080" stroke-width="1.6" fill="none"/><circle cx="704.5" cy="779.2" r="5" fill="#008080"/>
<path d="M719.6,786.11V796.29M714.6,786.11H724.6M714.6,796.29H724.6" stroke="#008080" stroke-width="1.6" fill="none"/><circle cx="719.6" cy="791.2" r="5" fill="#008080"/>
<path d="M734.6,791.04V801.36M729.6,791.04H739.6M729.6,801.36H739.6" stroke="#008080" stroke-width="1.6" fill="none"/><circle cx="734.6" cy="796.2" r="5" fill="#008080"/>
<path d="M749.6,795.38V805.82M744.6,795.38H754.6M744.6,805.82H754.6" stroke="#008080" stroke-width="1.6" fill="none"/><circle cx="749.6" cy="800.6" r="5" fill="#008080"/>
<path d="M764.9,796.91V807.49M759.9,796.91H769.9M759.9,807.49H769.9" stroke="#008080" stroke-width="1.6" fill="none"/><circle cx="764.9" cy="802.2" r="5" fill="#008080"/>
<path d="M779.9,793.25V803.95M774.9,793.25H784.9M774.9,803.95H784.9" stroke="#008080" stroke-width="1.6" fill="none"/><circle cx="779.9" cy="798.6" r="5" fill="#008080"/>
<path d="M795.7,787.78V798.62M790.7,787.78H800.7M790.7,798.62H800.7" stroke="#008080" stroke-width="1.6" fill="none"/><circle cx="795.7" cy="793.2" r="5" fill="#008080"/>
<path d="M811,804.72V815.68M806,804.72H816M806,815.68H816" stroke="#008080" stroke-width="1.6" fill="none"/><circle cx="811" cy="810.2" r="5" fill="#008080"/>
<path d="M826.4,798.65V809.75M821.4,798.65H831.4M821.4,809.75H831.4" stroke="#008080" stroke-width="1.6" fill="none"/><circle cx="826.4" cy="804.2" r="5" fill="#008080"/>
<path d="M841.4,803.59V814.81M836.4,803.59H846.4M836.4,814.81H846.4" stroke="#008080" stroke-width="1.6" fill="none"/><circle cx="841.4" cy="809.2" r="5" fill="#008080"/>
<path d="M856.5,811.63V822.97M851.5,811.63H861.5M851.5,822.97H861.5" stroke="#008080" stroke-width="1.6" fill="none"/><circle cx="856.5" cy="817.3" r="5" fill="#008080"/>
<path d="M871.5,803.46V814.94M866.5,803.46H876.5M866.5,814.94H876.5" stroke="#008080" stroke-width="1.6" fill="none"/><circle cx="871.5" cy="809.2" r="5" fill="#008080"/>
<path d="M887.5,797.4V809M882.5,797.4H892.5M882.5,809H892.5" stroke="#008080" stroke-width="1.6" fill="none"/><circle cx="887.5" cy="803.2" r="5" fill="#008080"/>
<path d="M903,822.83V834.57M898,822.83H908M898,834.57H908" stroke="#008080" stroke-width="1.6" fill="none"/><circle cx="903" cy="828.7" r="5" fill="#008080"/>
<path d="M918,822.37V834.23M913,822.37H923M913,834.23H923" stroke="#008080" stroke-width="1.6" fill="none"/><circle cx="918" cy="828.3" r="5" fill="#008080"/>
<path d="M933.1,821.3V833.3M928.1,821.3H938.1M928.1,833.3H938.1" stroke="#008080" stroke-width="1.6" fill="none"/><circle cx="933.1" cy="827.3" r="5" fill="#008080"/>
<path d="M948.1,836.24V848.36M943.1,836.24H953.1M943.1,848.36H953.1" stroke="#008080" stroke-width="1.6" fill="none"/><circle cx="948.1" cy="842.3" r="5" fill="#008080"/>
<path d="M963.1,809.78V822.02M958.1,809.78H968.1M958.1,822.02H968.1" stroke="#008080" stroke-width="1.6" fill="none"/><circle cx="963.1" cy="815.9" r="5" fill="#008080"/>
<path d="M978.2,813.11V825.49M973.2,813.11H983.2M973.2,825.49H983.2" stroke="#008080" stroke-width="1.6" fill="none"/><circle cx="978.2" cy="819.3" r="5" fill="#008080"/>
<path d="M994.2,837.04V849.56M989.2,837.04H999.2M989.2,849.56H999.2" stroke="#008080" stroke-width="1.6" fill="none"/><circle cx="994.2" cy="843.3" r="5" fill="#008080"/>
<path d="M1009.2,819.98V832.62M1004.2,819.98H1014.2M1004.2,832.62H1014.2" stroke="#008080" stroke-width="1.6" fill="none"/><circle cx="1009.2" cy="826.3" r="5" fill="#008080"/>
<path d="M1024.3,818.92V831.68M1019.3,818.92H1029.3M1019.3,831.68H1029.3" stroke="#008080" stroke-width="1.6" fill="none"/><circle cx="1024.3" cy="825.3" r="5" fill="#008080"/>
<path d="M1039.3,834.85V847.75M1034.3,834.85H1044.3M1034.3,847.75H1044.3" stroke="#008080" stroke-width="1.6" fill="none"/><circle cx="1039.3" cy="841.3" r="5" fill="#008080"/>
<path d="M1054.3,831.79V844.81M1049.3,831.79H1059.3M1049.3,844.81H1059.3" stroke="#008080" stroke-width="1.6" fill="none"/><circle cx="1054.3" cy="838.3" r="5" fill="#008080"/>
<path d="M1069.8,827.72V840.88M1064.8,827.72H1074.8M1064.8,840.88H1074.8" stroke="#008080" stroke-width="1.6" fill="none"/><circle cx="1069.8" cy="834.3" r="5" fill="#008080"/>
<path d="M1085.4,831.26V844.54M1080.4,831.26H1090.4M1080.4,844.54H1090.4" stroke="#008080" stroke-width="1.6" fill="none"/><circle cx="1085.4" cy="837.9" r="5" fill="#008080"/>
<path d="M1100.4,839.59V853.01M1095.4,839.59H1105.4M1095.4,853.01H1105.4" stroke="#008080" stroke-width="1.6" fill="none"/><circle cx="1100.4" cy="846.3" r="5" fill="#008080"/>
<path d="M1115.5,830.13V843.67M1110.5,830.13H1120.5M1110.5,843.67H1120.5" stroke="#008080" stroke-width="1.6" fill="none"/><circle cx="1115.5" cy="836.9" r="5" fill="#008080"/>
<path d="M1130.9,832.47V846.13M1125.9,832.47H1135.9M1125.9,846.13H1135.9" stroke="#008080" stroke-width="1.6" fill="none"/><circle cx="1130.9" cy="839.3" r="5" fill="#008080"/>
<path d="M1146.1,831V844.8M1141.1,831H1151.1M1141.1,844.8H1151.1" stroke="#008080" stroke-width="1.6" fill="none"/><circle cx="1146.1" cy="837.9" r="5" fill="#008080"/>
<path d="M1161.6,816.94V830.86M1156.6,816.94H1166.6M1156.6,830.86H1166.6" stroke="#008080" stroke-width="1.6" fill="none"/><circle cx="1161.6" cy="823.9" r="5" fill="#008080"/>
<path d="M658.5,781.06V790.74M653.5,781.06H663.5M653.5,790.74H663.5" stroke="#008000" stroke-width="1.6" fill="none"/><circle cx="658.5" cy="785.9" r="5" fill="#008000"/>
<path d="M673.7,794.7V804.5M668.7,794.7H678.7M668.7,804.5H678.7" stroke="#008000" stroke-width="1.6" fill="none"/><circle cx="673.7" cy="799.6" r="5" fill="#008000"/>
<path d="M689.1,793.63V803.57M684.1,793.63H694.1M684.1,803.57H694.1" stroke="#008000" stroke-width="1.6" fill="none"/><circle cx="689.1" cy="798.6" r="5" fill="#008000"/>
<path d="M704.5,804.77V814.83M699.5,804.77H709.5M699.5,814.83H709.5" stroke="#008000" stroke-width="1.6" fill="none"/><circle cx="704.5" cy="809.8" r="5" fill="#008000"/>
<path d="M719.6,814.21V824.39M714.6,814.21H724.6M714.6,824.39H724.6" stroke="#008000" stroke-width="1.6" fill="none"/><circle cx="719.6" cy="819.3" r="5" fill="#008000"/>
<path d="M734.6,809.54V819.86M729.6,809.54H739.6M729.6,819.86H739.6" stroke="#008000" stroke-width="1.6" fill="none"/><circle cx="734.6" cy="814.7" r="5" fill="#008000"/>
<path d="M749.6,814.68V825.12M744.6,814.68H754.6M744.6,825.12H754.6" stroke="#008000" stroke-width="1.6" fill="none"/><circle cx="749.6" cy="819.9" r="5" fill="#008000"/>
<path d="M764.9,814.41V824.99M759.9,814.41H769.9M759.9,824.99H769.9" stroke="#008000" stroke-width="1.6" fill="none"/><circle cx="764.9" cy="819.7" r="5" fill="#008000"/>
<path d="M779.9,810.55V821.25M774.9,810.55H784.9M774.9,821.25H784.9" stroke="#008000" stroke-width="1.6" fill="none"/><circle cx="779.9" cy="815.9" r="5" fill="#008000"/>
<path d="M795.7,836.48V847.32M790.7,836.48H800.7M790.7,847.32H800.7" stroke="#008000" stroke-width="1.6" fill="none"/><circle cx="795.7" cy="841.9" r="5" fill="#008000"/>
<path d="M811,828.42V839.38M806,828.42H816M806,839.38H816" stroke="#008000" stroke-width="1.6" fill="none"/><circle cx="811" cy="833.9" r="5" fill="#008000"/>
<path d="M826.4,830.35V841.45M821.4,830.35H831.4M821.4,841.45H831.4" stroke="#008000" stroke-width="1.6" fill="none"/><circle cx="826.4" cy="835.9" r="5" fill="#008000"/>
<path d="M841.4,839.09V850.31M836.4,839.09H846.4M836.4,850.31H846.4" stroke="#008000" stroke-width="1.6" fill="none"/><circle cx="841.4" cy="844.7" r="5" fill="#008000"/>
<path d="M856.5,838.23V849.57M851.5,838.23H861.5M851.5,849.57H861.5" stroke="#008000" stroke-width="1.6" fill="none"/><circle cx="856.5" cy="843.9" r="5" fill="#008000"/>
<path d="M871.5,838.96V850.44M866.5,838.96H876.5M866.5,850.44H876.5" stroke="#008000" stroke-width="1.6" fill="none"/><circle cx="871.5" cy="844.7" r="5" fill="#008000"/>
<path d="M887.5,832.1V843.7M882.5,832.1H892.5M882.5,843.7H892.5" stroke="#008000" stroke-width="1.6" fill="none"/><circle cx="887.5" cy="837.9" r="5" fill="#008000"/>
<path d="M903,846.03V857.77M898,846.03H908M898,857.77H908" stroke="#008000" stroke-width="1.6" fill="none"/><circle cx="903" cy="851.9" r="5" fill="#008000"/>
<path d="M918,828.77V840.63M913,828.77H923M913,840.63H923" stroke="#008000" stroke-width="1.6" fill="none"/><circle cx="918" cy="834.7" r="5" fill="#008000"/>
<path d="M933.1,834.3V846.3M928.1,834.3H938.1M928.1,846.3H938.1" stroke="#008000" stroke-width="1.6" fill="none"/><circle cx="933.1" cy="840.3" r="5" fill="#008000"/>
<path d="M948.1,833.24V845.36M943.1,833.24H953.1M943.1,845.36H953.1" stroke="#008000" stroke-width="1.6" fill="none"/><circle cx="948.1" cy="839.3" r="5" fill="#008000"/>
<path d="M963.1,835.18V847.42M958.1,835.18H968.1M958.1,847.42H968.1" stroke="#008000" stroke-width="1.6" fill="none"/><circle cx="963.1" cy="841.3" r="5" fill="#008000"/>
<path d="M978.2,841.11V853.49M973.2,841.11H983.2M973.2,853.49H983.2" stroke="#008000" stroke-width="1.6" fill="none"/><circle cx="978.2" cy="847.3" r="5" fill="#008000"/>
<path d="M994.2,848.04V860.56M989.2,848.04H999.2M989.2,860.56H999.2" stroke="#008000" stroke-width="1.6" fill="none"/><circle cx="994.2" cy="854.3" r="5" fill="#008000"/>
<path d="M1009.2,850.98V863.62M1004.2,850.98H1014.2M1004.2,863.62H1014.2" stroke="#008000" stroke-width="1.6" fill="none"/><circle cx="1009.2" cy="857.3" r="5" fill="#008000"/>
<path d="M1024.3,835.92V848.68M1019.3,835.92H1029.3M1019.3,848.68H1029.3" stroke="#008000" stroke-width="1.6" fill="none"/><circle cx="1024.3" cy="842.3" r="5" fill="#008000"/>
<path d="M1039.3,830.85V843.75M1034.3,830.85H1044.3M1034.3,843.75H1044.3" stroke="#008000" stroke-width="1.6" fill="none"/><circle cx="1039.3" cy="837.3" r="5" fill="#008000"/>
<path d="M1054.3,845.39V858.41M1049.3,845.39H1059.3M1049.3,858.41H1059.3" stroke="#008000" stroke-width="1.6" fill="none"/><circle cx="1054.3" cy="851.9" r="5" fill="#008000"/>
<path d="M1069.8,846.72V859.88M1064.8,846.72H1074.8M1064.8,859.88H1074.8" stroke="#008000" stroke-width="1.6" fill="none"/><circle cx="1069.8" cy="853.3" r="5" fill="#008000"/>
<path d="M1085.4,839.66V852.94M1080.4,839.66H1090.4M1080.4,852.94H1090.4" stroke="#008000" stroke-width="1.6" fill="none"/><circle cx="1085.4" cy="846.3" r="5" fill="#008000"/>
<path d="M1100.4,837.59V851.01M1095.4,837.59H1105.4M1095.4,851.01H1105.4" stroke="#008000" stroke-width="1.6" fill="none"/><circle cx="1100.4" cy="844.3" r="5" fill="#008000"/>
<path d="M1115.5,849.53V863.07M1110.5,849.53H1120.5M1110.5,863.07H1120.5" stroke="#008000" stroke-width="1.6" fill="none"/><circle cx="1115.5" cy="856.3" r="5" fill="#008000"/>
<path d="M1130.9,847.47V861.13M1125.9,847.47H1135.9M1125.9,861.13H1135.9" stroke="#008000" stroke-width="1.6" fill="none"/><circle cx="1130.9" cy="854.3" r="5" fill="#008000"/>
<path d="M1146.1,842.4V856.2M1141.1,842.4H1151.1M1141.1,856.2H1151.1" stroke="#008000" stroke-width="1.6" fill="none"/><circle cx="1146.1" cy="849.3" r="5" fill="#008000"/>
<path d="M1161.6,843.74V857.66M1156.6,843.74H1166.6M1156.6,857.66H1166.6" stroke="#008000" stroke-width="1.6" fill="none"/><circle cx="1161.6" cy="850.7" r="5" fill="#008000"/>
<path d="M663.9,524.34V531.06M658.9,524.34H668.9M658.9,531.06H668.9" stroke="#808000" stroke-width="1.6" fill="none"/><circle cx="663.9" cy="527.7" r="5" fill="#808000"/>
<path d="M689.3,553.13V560.07M684.3,553.13H694.3M684.3,560.07H694.3" stroke="#808000" stroke-width="1.6" fill="none"/><circle cx="689.3" cy="556.6" r="5" fill="#808000"/>
<path d="M714.3,578.43V585.57M709.3,578.43H719.3M709.3,585.57H719.3" stroke="#808000" stroke-width="1.6" fill="none"/><circle cx="714.3" cy="582" r="5" fill="#808000"/>
<path d="M739.3,592.92V600.28M734.3,592.92H744.3M734.3,600.28H744.3" stroke="#808000" stroke-width="1.6" fill="none"/><circle cx="739.3" cy="596.6" r="5" fill="#808000"/>
<path d="M765.1,612.71V620.29M760.1,612.71H770.1M760.1,620.29H770.1" stroke="#808000" stroke-width="1.6" fill="none"/><circle cx="765.1" cy="616.5" r="5" fill="#808000"/>
<path d="M790.5,605.81V613.59M785.5,605.81H795.5M785.5,613.59H795.5" stroke="#808000" stroke-width="1.6" fill="none"/><circle cx="790.5" cy="609.7" r="5" fill="#808000"/>
<path d="M815.4,623.8V631.8M810.4,623.8H820.4M810.4,631.8H820.4" stroke="#808000" stroke-width="1.6" fill="none"/><circle cx="815.4" cy="627.8" r="5" fill="#808000"/>
<path d="M841.2,627.99V636.21M836.2,627.99H846.2M836.2,636.21H846.2" stroke="#808000" stroke-width="1.6" fill="none"/><circle cx="841.2" cy="632.1" r="5" fill="#808000"/>
<path d="M866.6,641.18V649.62M861.6,641.18H871.6M861.6,649.62H871.6" stroke="#808000" stroke-width="1.6" fill="none"/><circle cx="866.6" cy="645.4" r="5" fill="#808000"/>
<path d="M892,638.98V647.62M887,638.98H897M887,647.62H897" stroke="#808000" stroke-width="1.6" fill="none"/><circle cx="892" cy="643.3" r="5" fill="#808000"/>
<path d="M917.7,645.27V654.13M912.7,645.27H922.7M912.7,654.13H922.7" stroke="#808000" stroke-width="1.6" fill="none"/><circle cx="917.7" cy="649.7" r="5" fill="#808000"/>
<path d="M943.1,654.56V663.64M938.1,654.56H948.1M938.1,663.64H948.1" stroke="#808000" stroke-width="1.6" fill="none"/><circle cx="943.1" cy="659.1" r="5" fill="#808000"/>
<path d="M968.5,669.45V678.75M963.5,669.45H973.5M963.5,678.75H973.5" stroke="#808000" stroke-width="1.6" fill="none"/><circle cx="968.5" cy="674.1" r="5" fill="#808000"/>
<path d="M993.8,657.65V667.15M988.8,657.65H998.8M988.8,667.15H998.8" stroke="#808000" stroke-width="1.6" fill="none"/><circle cx="993.8" cy="662.4" r="5" fill="#808000"/>
<path d="M1019.6,672.54V682.26M1014.6,672.54H1024.6M1014.6,682.26H1024.6" stroke="#808000" stroke-width="1.6" fill="none"/><circle cx="1019.6" cy="677.4" r="5" fill="#808000"/>
<path d="M1044.2,666.83V676.77M1039.2,666.83H1049.2M1039.2,676.77H1049.2" stroke="#808000" stroke-width="1.6" fill="none"/><circle cx="1044.2" cy="671.8" r="5" fill="#808000"/>
<path d="M1070,683.32V693.48M1065,683.32H1075M1065,693.48H1075" stroke="#808000" stroke-width="1.6" fill="none"/><circle cx="1070" cy="688.4" r="5" fill="#808000"/>
<path d="M1094.8,690.02V700.38M1089.8,690.02H1099.8M1089.8,700.38H1099.8" stroke="#808000" stroke-width="1.6" fill="none"/><circle cx="1094.8" cy="695.2" r="5" fill="#808000"/>
<path d="M1120.7,692.21V702.79M1115.7,692.21H1125.7M1115.7,702.79H1125.7" stroke="#808000" stroke-width="1.6" fill="none"/><circle cx="1120.7" cy="697.5" r="5" fill="#808000"/>
<path d="M1146.1,681.4V692.2M1141.1,681.4H1151.1M1141.1,692.2H1151.1" stroke="#808000" stroke-width="1.6" fill="none"/><circle cx="1146.1" cy="686.8" r="5" fill="#808000"/>
<path d="M1174.5,682.98V694.02M1169.5,682.98H1179.5M1169.5,694.02H1179.5" stroke="#808000" stroke-width="1.6" fill="none"/><circle cx="1174.5" cy="688.5" r="5" fill="#808000"/>
<path d="M663.9,544.54V551.86M658.9,544.54H668.9M658.9,551.86H668.9" stroke="#800000" stroke-width="1.6" fill="none"/><circle cx="663.9" cy="548.2" r="5" fill="#800000"/>
<path d="M689.3,547.33V554.87M684.3,547.33H694.3M684.3,554.87H694.3" stroke="#800000" stroke-width="1.6" fill="none"/><circle cx="689.3" cy="551.1" r="5" fill="#800000"/>
<path d="M714.3,552.13V559.87M709.3,552.13H719.3M709.3,559.87H719.3" stroke="#800000" stroke-width="1.6" fill="none"/><circle cx="714.3" cy="556" r="5" fill="#800000"/>
<path d="M739.3,561.82V569.78M734.3,561.82H744.3M734.3,569.78H744.3" stroke="#800000" stroke-width="1.6" fill="none"/><circle cx="739.3" cy="565.8" r="5" fill="#800000"/>
<path d="M765.1,573.01V581.19M760.1,573.01H770.1M760.1,581.19H770.1" stroke="#800000" stroke-width="1.6" fill="none"/><circle cx="765.1" cy="577.1" r="5" fill="#800000"/>
<path d="M790.5,575.21V583.59M785.5,575.21H795.5M785.5,583.59H795.5" stroke="#800000" stroke-width="1.6" fill="none"/><circle cx="790.5" cy="579.4" r="5" fill="#800000"/>
<path d="M815.4,584.3V592.9M810.4,584.3H820.4M810.4,592.9H820.4" stroke="#800000" stroke-width="1.6" fill="none"/><circle cx="815.4" cy="588.6" r="5" fill="#800000"/>
<path d="M841.2,589.69V598.51M836.2,589.69H846.2M836.2,598.51H846.2" stroke="#800000" stroke-width="1.6" fill="none"/><circle cx="841.2" cy="594.1" r="5" fill="#800000"/>
<path d="M866.6,595.78V604.82M861.6,595.78H871.6M861.6,604.82H871.6" stroke="#800000" stroke-width="1.6" fill="none"/><circle cx="866.6" cy="600.3" r="5" fill="#800000"/>
<path d="M892,613.28V622.52M887,613.28H897M887,622.52H897" stroke="#800000" stroke-width="1.6" fill="none"/><circle cx="892" cy="617.9" r="5" fill="#800000"/>
<path d="M917.7,616.67V626.13M912.7,616.67H922.7M912.7,626.13H922.7" stroke="#800000" stroke-width="1.6" fill="none"/><circle cx="917.7" cy="621.4" r="5" fill="#800000"/>
<path d="M943.1,624.36V634.04M938.1,624.36H948.1M938.1,634.04H948.1" stroke="#800000" stroke-width="1.6" fill="none"/><circle cx="943.1" cy="629.2" r="5" fill="#800000"/>
<path d="M968.5,616.45V626.35M963.5,616.45H973.5M963.5,626.35H973.5" stroke="#800000" stroke-width="1.6" fill="none"/><circle cx="968.5" cy="621.4" r="5" fill="#800000"/>
<path d="M993.8,639.15V649.25M988.8,639.15H998.8M988.8,649.25H998.8" stroke="#800000" stroke-width="1.6" fill="none"/><circle cx="993.8" cy="644.2" r="5" fill="#800000"/>
<path d="M1019.6,642.64V652.96M1014.6,642.64H1024.6M1014.6,652.96H1024.6" stroke="#800000" stroke-width="1.6" fill="none"/><circle cx="1019.6" cy="647.8" r="5" fill="#800000"/>
<path d="M1044.2,648.73V659.27M1039.2,648.73H1049.2M1039.2,659.27H1049.2" stroke="#800000" stroke-width="1.6" fill="none"/><circle cx="1044.2" cy="654" r="5" fill="#800000"/>
<path d="M1070,655.12V665.88M1065,655.12H1075M1065,665.88H1075" stroke="#800000" stroke-width="1.6" fill="none"/><circle cx="1070" cy="660.5" r="5" fill="#800000"/>
<path d="M1094.8,658.92V669.88M1089.8,658.92H1099.8M1089.8,669.88H1099.8" stroke="#800000" stroke-width="1.6" fill="none"/><circle cx="1094.8" cy="664.4" r="5" fill="#800000"/>
<path d="M1120.7,648.01V659.19M1115.7,648.01H1125.7M1115.7,659.19H1125.7" stroke="#800000" stroke-width="1.6" fill="none"/><circle cx="1120.7" cy="653.6" r="5" fill="#800000"/>
<path d="M1146.1,659.6V671M1141.1,659.6H1151.1M1141.1,671H1151.1" stroke="#800000" stroke-width="1.6" fill="none"/><circle cx="1146.1" cy="665.3" r="5" fill="#800000"/>
<path d="M1174.5,658.68V670.32M1169.5,658.68H1179.5M1169.5,670.32H1179.5" stroke="#800000" stroke-width="1.6" fill="none"/><circle cx="1174.5" cy="664.5" r="5" fill="#800000"/>
</g>
<rect x="650" y="519.9" width="520.4" height="369.5" fill="none" stroke="#000" stroke-width="1.6"/>
<path d="M650,889.4V883.4M663.01,889.4V883.4M676.02,889.4V883.4M689.03,889.4V883.4M702.04,889.4V883.4M715.05,889.4V883.4M728.06,889.4V883.4M741.07,889.4V883.4M754.08,889.4V883.4M767.09,889.4V883.4M780.1,889.4V883.4M793.11,889.4V883.4M806.12,889.4V883.4M819.13,889.4V883.4M832.14,889.4V883.4M845.15,889.4V883.4M858.16,889.4V883.4M871.17,889.4V883.4M884.18,889.4V883.4M897.19,889.4V883.4M910.2,889.4V883.4M923.21,889.4V883.4M936.22,889.4V883.4M949.23,889.4V883.4M962.24,889.4V883.4M975.25,889.4V883.4M988.26,889.4V883.4M1001.27,889.4V883.4M1014.28,889.4V883.4M1027.29,889.4V883.4M1040.3,889.4V883.4M1053.31,889.4V883.4M1066.32,889.4V883.4M1079.33,889.4V883.4M1092.34,889.4V883.4M1105.35,889.4V883.4M1118.36,889.4V883.4M1131.37,889.4V883.4M1144.38,889.4V883.4M1157.39,889.4V883.4M1170.4,889.4V883.4M650,889.4V878.9M702.04,889.4V878.9M754.08,889.4V878.9M806.12,889.4V878.9M858.16,889.4V878.9M910.2,889.4V878.9M962.24,889.4V878.9M1014.28,889.4V878.9M1066.32,889.4V878.9M1118.36,889.4V878.9M1170.4,889.4V878.9" stroke="#000" stroke-width="1.6" fill="none"/>
<path d="M650,882H656M650,867.56H656M650,853.12H656M650,838.68H656M650,824.24H656M650,809.8H656M650,795.36H656M650,780.92H656M650,766.48H656M650,752.04H656M650,737.6H656M650,723.16H656M650,708.72H656M650,694.28H656M650,679.84H656M650,665.4H656M650,650.96H656M650,636.52H656M650,622.08H656M650,607.64H656M650,593.2H656M650,578.76H656M650,564.32H656M650,549.88H656M650,535.44H656M650,521H656M650,882H660.5M650,809.8H660.5M650,737.6H660.5M650,665.4H660.5M650,593.2H660.5M650,521H660.5" stroke="#000" stroke-width="1.6" fill="none"/>
<text x="650" y="915" font-size="22" text-anchor="middle">0</text>
<text x="702.04" y="915" font-size="22" text-anchor="middle">0.2</text>
<text x="754.08" y="915" font-size="22" text-anchor="middle">0.4</text>
<text x="806.12" y="915" font-size="22" text-anchor="middle">0.6</text>
<text x="858.16" y="915" font-size="22" text-anchor="middle">0.8</text>
<text x="910.2" y="915" font-size="22" text-anchor="middle">1</text>
<text x="962.24" y="915" font-size="22" text-anchor="middle">1.2</text>
<text x="1014.28" y="915" font-size="22" text-anchor="middle">1.4</text>
<text x="1066.32" y="915" font-size="22" text-anchor="middle">1.6</text>
<text x="1118.36" y="915" font-size="22" text-anchor="middle">1.8</text>
<text x="1170.4" y="915" font-size="22" text-anchor="middle">2</text>
<text x="642.9" y="889.4" font-size="22" text-anchor="end">0</text>
<text x="642.9" y="817.2" font-size="22" text-anchor="end">0.05</text>
<text x="642.9" y="745" font-size="22" text-anchor="end">0.1</text>
<text x="642.9" y="672.8" font-size="22" text-anchor="end">0.15</text>
<text x="642.9" y="600.6" font-size="22" text-anchor="end">0.2</text>
<text x="642.9" y="528.4" font-size="22" text-anchor="end">0.25</text>
<text transform="translate(594.8,698.4) rotate(-90)" text-anchor="middle" font-size="41.5">Asymmetry</text>
<text x="909.6" y="960.2" font-size="42.2" text-anchor="middle">time (&#956;s)</text>
<text x="1007" y="553.4" font-size="33.5" letter-spacing="-0.55">Co<tspan font-size="21.5" dy="5.6">8</tspan><tspan dy="-5.6">Zn</tspan><tspan font-size="21.5" dy="5.6">8</tspan><tspan dy="-5.6">Mn</tspan><tspan font-size="21.5" dy="5.6">4</tspan></text>
<text x="1176.8" y="541.8" font-size="26.5"><tspan font-style="italic">H</tspan> = 0 Oe</text>
<circle cx="1200.7" cy="562.3" r="4.9" fill="#000080"/>
<text x="1234.3" y="570.5" font-size="26.5">5 K</text>
<circle cx="1200.7" cy="591.2" r="4.9" fill="#008080"/>
<text x="1234.3" y="599.4" font-size="26.5">35 K</text>
<circle cx="1200.7" cy="620.1" r="4.9" fill="#008000"/>
<text x="1234.3" y="628.3" font-size="26.5">200 K</text>
<circle cx="1200.7" cy="649" r="4.9" fill="#808000"/>
<text x="1234.3" y="657.2" font-size="26.5">300 K</text>
<circle cx="1200.7" cy="677.9" r="4.9" fill="#800000"/>
<text x="1234.3" y="686.1" font-size="26.5">320 K</text>
<rect x="1508.67" y="41.1" width="130.62" height="370.9" fill="#e6e6ff"/>
<rect x="1769.92" y="41.1" width="78.38" height="370.9" fill="#ffe6e6"/>
<line x1="1508.67" y1="39.6" x2="1508.67" y2="412.5" stroke="#000" stroke-width="1.4" stroke-dasharray="4,2.5"/>
<line x1="1848.3" y1="39.6" x2="1848.3" y2="412.5" stroke="#000" stroke-width="1.4" stroke-dasharray="4,2.5"/>
<g clip-path="url(#cf)">
<path d="M1443.36,382.22V386.87M1438.16,382.22H1448.56M1438.16,386.87H1448.56" stroke="#800000" stroke-width="1.7" fill="none"/><circle cx="1443.36" cy="384.55" r="6.3" fill="#800000"/>
<path d="M1482.55,341.52V348.49M1477.35,341.52H1487.75M1477.35,348.49H1487.75" stroke="#800000" stroke-width="1.7" fill="none"/><circle cx="1482.55" cy="345.01" r="6.3" fill="#800000"/>
<path d="M1508.67,260.57V278.25M1503.47,260.57H1513.88M1503.47,278.25H1513.88" stroke="#800000" stroke-width="1.7" fill="none"/><circle cx="1508.67" cy="269.41" r="6.3" fill="#800000"/>
<path d="M1521.74,188.93V219.17M1516.54,188.93H1526.94M1516.54,219.17H1526.94" stroke="#800000" stroke-width="1.7" fill="none"/><circle cx="1521.74" cy="205.45" r="6.3" fill="#800000"/>
<path d="M1547.86,34.48V101.01M1542.66,34.48H1553.06M1542.66,101.01H1553.06" stroke="#800000" stroke-width="1.7" fill="none"/><circle cx="1547.86" cy="68.21" r="6.3" fill="#800000"/>
<path d="M1560.92,169.39V204.28M1555.72,169.39H1566.12M1555.72,204.28H1566.12" stroke="#800000" stroke-width="1.7" fill="none"/><circle cx="1560.92" cy="186.84" r="6.3" fill="#800000"/>
<path d="M1573.99,152.88V189.98M1568.79,152.88H1579.19M1568.79,189.98H1579.19" stroke="#800000" stroke-width="1.7" fill="none"/><circle cx="1573.99" cy="172.3" r="6.3" fill="#800000"/>
<path d="M1600.63,261.27V277.55M1595.43,261.27H1605.84M1595.43,277.55H1605.84" stroke="#800000" stroke-width="1.7" fill="none"/><circle cx="1600.63" cy="269.41" r="6.3" fill="#800000"/>
<path d="M1639.82,308.37V316.51M1634.62,308.37H1645.02M1634.62,316.51H1645.02" stroke="#800000" stroke-width="1.7" fill="none"/><circle cx="1639.82" cy="312.44" r="6.3" fill="#800000"/>
<path d="M1691.81,314.19V322.33M1686.61,314.19H1697.01M1686.61,322.33H1697.01" stroke="#800000" stroke-width="1.7" fill="none"/><circle cx="1691.81" cy="318.26" r="6.3" fill="#800000"/>
<path d="M1717.67,318.84V326.98M1712.47,318.84H1722.88M1712.47,326.98H1722.88" stroke="#800000" stroke-width="1.7" fill="none"/><circle cx="1717.67" cy="322.91" r="6.3" fill="#800000"/>
<path d="M1744.06,333.38V338.03M1738.86,333.38H1749.26M1738.86,338.03H1749.26" stroke="#800000" stroke-width="1.7" fill="none"/><circle cx="1744.06" cy="335.7" r="6.3" fill="#800000"/>
<path d="M1770.45,326.63V331.28M1765.25,326.63H1775.65M1765.25,331.28H1775.65" stroke="#800000" stroke-width="1.7" fill="none"/><circle cx="1770.45" cy="328.96" r="6.3" fill="#800000"/>
<path d="M1774.89,322.09V326.75M1769.69,322.09H1780.09M1769.69,326.75H1780.09" stroke="#800000" stroke-width="1.7" fill="none"/><circle cx="1774.89" cy="324.42" r="6.3" fill="#800000"/>
<path d="M1779.07,319.42V324.07M1773.87,319.42H1784.27M1773.87,324.07H1784.27" stroke="#800000" stroke-width="1.7" fill="none"/><circle cx="1779.07" cy="321.75" r="6.3" fill="#800000"/>
<path d="M1784.03,317.91V322.56M1778.83,317.91H1789.23M1778.83,322.56H1789.23" stroke="#800000" stroke-width="1.7" fill="none"/><circle cx="1784.03" cy="320.23" r="6.3" fill="#800000"/>
<path d="M1790.04,315.93V320.58M1784.84,315.93H1795.24M1784.84,320.58H1795.24" stroke="#800000" stroke-width="1.7" fill="none"/><circle cx="1790.04" cy="318.26" r="6.3" fill="#800000"/>
<path d="M1795.79,305V311.98M1790.59,305H1800.99M1790.59,311.98H1800.99" stroke="#800000" stroke-width="1.7" fill="none"/><circle cx="1795.79" cy="308.49" r="6.3" fill="#800000"/>
<path d="M1801.8,298.83V306.98M1796.6,298.83H1807M1796.6,306.98H1807" stroke="#800000" stroke-width="1.7" fill="none"/><circle cx="1801.8" cy="303.49" r="6.3" fill="#800000"/>
<path d="M1809.37,313.02V320M1804.17,313.02H1814.57M1804.17,320H1814.57" stroke="#800000" stroke-width="1.7" fill="none"/><circle cx="1809.37" cy="316.51" r="6.3" fill="#800000"/>
<path d="M1815.12,307.56V314.54M1809.92,307.56H1820.32M1809.92,314.54H1820.32" stroke="#800000" stroke-width="1.7" fill="none"/><circle cx="1815.12" cy="311.05" r="6.3" fill="#800000"/>
<path d="M1822.7,327.56V332.21M1817.5,327.56H1827.9M1817.5,332.21H1827.9" stroke="#800000" stroke-width="1.7" fill="none"/><circle cx="1822.7" cy="329.89" r="6.3" fill="#800000"/>
<path d="M1829.49,359.43V364.08M1824.29,359.43H1834.69M1824.29,364.08H1834.69" stroke="#800000" stroke-width="1.7" fill="none"/><circle cx="1829.49" cy="361.75" r="6.3" fill="#800000"/>
<path d="M1835.24,371.52V376.17M1830.04,371.52H1840.44M1830.04,376.17H1840.44" stroke="#800000" stroke-width="1.7" fill="none"/><circle cx="1835.24" cy="373.85" r="6.3" fill="#800000"/>
<path d="M1842.03,378.27V382.92M1836.83,378.27H1847.23M1836.83,382.92H1847.23" stroke="#800000" stroke-width="1.7" fill="none"/><circle cx="1842.03" cy="380.59" r="6.3" fill="#800000"/>
<path d="M1875.47,384.08V388.73M1870.27,384.08H1880.67M1870.27,388.73H1880.67" stroke="#800000" stroke-width="1.7" fill="none"/><circle cx="1875.47" cy="386.41" r="6.3" fill="#800000"/>
<path d="M1443.36,363.61V368.27M1438.16,363.61H1448.56M1438.16,368.27H1448.56" stroke="#008000" stroke-width="1.7" fill="none"/><circle cx="1443.36" cy="365.94" r="6.3" fill="#008000"/>
<path d="M1443.36,377.1V381.76M1438.16,377.1H1448.56M1438.16,381.76H1448.56" stroke="#008000" stroke-width="1.7" fill="none"/><circle cx="1443.36" cy="379.43" r="6.3" fill="#008000"/>
<path d="M1482.55,355.47V362.45M1477.35,355.47H1487.75M1477.35,362.45H1487.75" stroke="#008000" stroke-width="1.7" fill="none"/><circle cx="1482.55" cy="358.96" r="6.3" fill="#008000"/>
<path d="M1521.74,256.97V281.86M1516.54,256.97H1526.94M1516.54,281.86H1526.94" stroke="#008000" stroke-width="1.7" fill="none"/><circle cx="1521.74" cy="269.41" r="6.3" fill="#008000"/>
<path d="M1534.8,266.74V288.37M1529.6,266.74H1540M1529.6,288.37H1540" stroke="#008000" stroke-width="1.7" fill="none"/><circle cx="1534.8" cy="277.55" r="6.3" fill="#008000"/>
<path d="M1547.86,205.45V245.57M1542.66,205.45H1553.06M1542.66,245.57H1553.06" stroke="#008000" stroke-width="1.7" fill="none"/><circle cx="1547.86" cy="226.96" r="6.3" fill="#008000"/>
<path d="M1560.92,224.05V247.31M1555.72,224.05H1566.12M1555.72,247.31H1566.12" stroke="#008000" stroke-width="1.7" fill="none"/><circle cx="1560.92" cy="235.68" r="6.3" fill="#008000"/>
<path d="M1560.92,253.36V273.83M1555.72,253.36H1566.12M1555.72,273.83H1566.12" stroke="#008000" stroke-width="1.7" fill="none"/><circle cx="1560.92" cy="263.6" r="6.3" fill="#008000"/>
<path d="M1573.99,265.34V287.44M1568.79,265.34H1579.19M1568.79,287.44H1579.19" stroke="#008000" stroke-width="1.7" fill="none"/><circle cx="1573.99" cy="276.39" r="6.3" fill="#008000"/>
<path d="M1587.05,273.48V293.25M1581.85,273.48H1592.25M1581.85,293.25H1592.25" stroke="#008000" stroke-width="1.7" fill="none"/><circle cx="1587.05" cy="283.37" r="6.3" fill="#008000"/>
<path d="M1600.63,320V328.14M1595.43,320H1605.84M1595.43,328.14H1605.84" stroke="#008000" stroke-width="1.7" fill="none"/><circle cx="1600.63" cy="324.07" r="6.3" fill="#008000"/>
<path d="M1614.22,332.21V339.19M1609.02,332.21H1619.42M1609.02,339.19H1619.42" stroke="#008000" stroke-width="1.7" fill="none"/><circle cx="1614.22" cy="335.7" r="6.3" fill="#008000"/>
<path d="M1639.82,343.84V348.5M1634.62,343.84H1645.02M1634.62,348.5H1645.02" stroke="#008000" stroke-width="1.7" fill="none"/><circle cx="1639.82" cy="346.17" r="6.3" fill="#008000"/>
<path d="M1639.82,350.12V354.78M1634.62,350.12H1645.02M1634.62,354.78H1645.02" stroke="#008000" stroke-width="1.7" fill="none"/><circle cx="1639.82" cy="352.45" r="6.3" fill="#008000"/>
<path d="M1653.15,355.59V360.24M1647.95,355.59H1658.35M1647.95,360.24H1658.35" stroke="#008000" stroke-width="1.7" fill="none"/><circle cx="1653.15" cy="357.92" r="6.3" fill="#008000"/>
<path d="M1666.21,352.22V356.87M1661.01,352.22H1671.41M1661.01,356.87H1671.41" stroke="#008000" stroke-width="1.7" fill="none"/><circle cx="1666.21" cy="354.54" r="6.3" fill="#008000"/>
<path d="M1678.75,341.4V346.05M1673.55,341.4H1683.95M1673.55,346.05H1683.95" stroke="#008000" stroke-width="1.7" fill="none"/><circle cx="1678.75" cy="343.73" r="6.3" fill="#008000"/>
<path d="M1691.81,346.4V351.05M1686.61,346.4H1697.01M1686.61,351.05H1697.01" stroke="#008000" stroke-width="1.7" fill="none"/><circle cx="1691.81" cy="348.73" r="6.3" fill="#008000"/>
<path d="M1717.94,332.33V339.31M1712.74,332.33H1723.14M1712.74,339.31H1723.14" stroke="#008000" stroke-width="1.7" fill="none"/><circle cx="1717.94" cy="335.82" r="6.3" fill="#008000"/>
<path d="M1744.06,355.59V360.24M1738.86,355.59H1749.26M1738.86,360.24H1749.26" stroke="#008000" stroke-width="1.7" fill="none"/><circle cx="1744.06" cy="357.92" r="6.3" fill="#008000"/>
<path d="M1757.38,354.78V359.43M1752.18,354.78H1762.59M1752.18,359.43H1762.59" stroke="#008000" stroke-width="1.7" fill="none"/><circle cx="1757.38" cy="357.1" r="6.3" fill="#008000"/>
<path d="M1770.45,339.42V344.08M1765.25,339.42H1775.65M1765.25,344.08H1775.65" stroke="#008000" stroke-width="1.7" fill="none"/><circle cx="1770.45" cy="341.75" r="6.3" fill="#008000"/>
<path d="M1782.46,335.47V340.12M1777.26,335.47H1787.66M1777.26,340.12H1787.66" stroke="#008000" stroke-width="1.7" fill="none"/><circle cx="1782.46" cy="337.8" r="6.3" fill="#008000"/>
<path d="M1789.26,338.84V343.49M1784.06,338.84H1794.46M1784.06,343.49H1794.46" stroke="#008000" stroke-width="1.7" fill="none"/><circle cx="1789.26" cy="341.17" r="6.3" fill="#008000"/>
<path d="M1795.79,341.4V346.05M1790.59,341.4H1800.99M1790.59,346.05H1800.99" stroke="#008000" stroke-width="1.7" fill="none"/><circle cx="1795.79" cy="343.73" r="6.3" fill="#008000"/>
<path d="M1801.8,350.94V355.59M1796.6,350.94H1807M1796.6,355.59H1807" stroke="#008000" stroke-width="1.7" fill="none"/><circle cx="1801.8" cy="353.26" r="6.3" fill="#008000"/>
<path d="M1809.37,348.03V352.68M1804.17,348.03H1814.57M1804.17,352.68H1814.57" stroke="#008000" stroke-width="1.7" fill="none"/><circle cx="1809.37" cy="350.36" r="6.3" fill="#008000"/>
<path d="M1815.12,353.38V358.03M1809.92,353.38H1820.32M1809.92,358.03H1820.32" stroke="#008000" stroke-width="1.7" fill="none"/><circle cx="1815.12" cy="355.71" r="6.3" fill="#008000"/>
<path d="M1822.7,362.8V367.45M1817.5,362.8H1827.9M1817.5,367.45H1827.9" stroke="#008000" stroke-width="1.7" fill="none"/><circle cx="1822.7" cy="365.13" r="6.3" fill="#008000"/>
<path d="M1829.49,374.55V379.2M1824.29,374.55H1834.69M1824.29,379.2H1834.69" stroke="#008000" stroke-width="1.7" fill="none"/><circle cx="1829.49" cy="376.87" r="6.3" fill="#008000"/>
<path d="M1835.24,381.64V386.29M1830.04,381.64H1840.44M1830.04,386.29H1840.44" stroke="#008000" stroke-width="1.7" fill="none"/><circle cx="1835.24" cy="383.97" r="6.3" fill="#008000"/>
<path d="M1847.78,387.46V389.78M1842.58,387.46H1852.98M1842.58,389.78H1852.98" stroke="#008000" stroke-width="1.7" fill="none"/><circle cx="1847.78" cy="388.62" r="6.3" fill="#008000"/>
<path d="M1927.46,388.62V390.94M1922.26,388.62H1932.66M1922.26,390.94H1932.66" stroke="#008000" stroke-width="1.7" fill="none"/><circle cx="1927.46" cy="389.78" r="6.3" fill="#008000"/>
<path d="M1443.36,388.73V391.06M1438.16,388.73H1448.56M1438.16,391.06H1448.56" stroke="#000080" stroke-width="1.7" fill="none"/><circle cx="1443.36" cy="389.9" r="6.3" fill="#000080"/>
<path d="M1482.55,366.52V371.17M1477.35,366.52H1487.75M1477.35,371.17H1487.75" stroke="#000080" stroke-width="1.7" fill="none"/><circle cx="1482.55" cy="368.85" r="6.3" fill="#000080"/>
<path d="M1510.5,332.21V339.19M1505.3,332.21H1515.7M1505.3,339.19H1515.7" stroke="#000080" stroke-width="1.7" fill="none"/><circle cx="1510.5" cy="335.7" r="6.3" fill="#000080"/>
<path d="M1534.8,262.9V285.23M1529.6,262.9H1540M1529.6,285.23H1540" stroke="#000080" stroke-width="1.7" fill="none"/><circle cx="1534.8" cy="274.06" r="6.3" fill="#000080"/>
<path d="M1560.92,226.38V254.29M1555.72,226.38H1566.12M1555.72,254.29H1566.12" stroke="#000080" stroke-width="1.7" fill="none"/><circle cx="1560.92" cy="240.34" r="6.3" fill="#000080"/>
<path d="M1587.05,310.81V323.37M1581.85,310.81H1592.25M1581.85,323.37H1592.25" stroke="#000080" stroke-width="1.7" fill="none"/><circle cx="1587.05" cy="317.09" r="6.3" fill="#000080"/>
<path d="M1613.17,363.61V368.27M1607.97,363.61H1618.38M1607.97,368.27H1618.38" stroke="#000080" stroke-width="1.7" fill="none"/><circle cx="1613.17" cy="365.94" r="6.3" fill="#000080"/>
<path d="M1665.16,383.04V385.36M1659.96,383.04H1670.36M1659.96,385.36H1670.36" stroke="#000080" stroke-width="1.7" fill="none"/><circle cx="1665.16" cy="384.2" r="6.3" fill="#000080"/>
<path d="M1717.41,387.8V390.13M1712.21,387.8H1722.61M1712.21,390.13H1722.61" stroke="#000080" stroke-width="1.7" fill="none"/><circle cx="1717.41" cy="388.97" r="6.3" fill="#000080"/>
<path d="M1769.92,388.62V390.94M1764.72,388.62H1775.12M1764.72,390.94H1775.12" stroke="#000080" stroke-width="1.7" fill="none"/><circle cx="1769.92" cy="389.78" r="6.3" fill="#000080"/>
<path d="M1809.63,388.62V390.94M1804.43,388.62H1814.83M1804.43,390.94H1814.83" stroke="#000080" stroke-width="1.7" fill="none"/><circle cx="1809.63" cy="389.78" r="6.3" fill="#000080"/>
<path d="M1822.96,388.62V390.94M1817.76,388.62H1828.16M1817.76,390.94H1828.16" stroke="#000080" stroke-width="1.7" fill="none"/><circle cx="1822.96" cy="389.78" r="6.3" fill="#000080"/>
<path d="M1848.04,388.62V390.94M1842.84,388.62H1853.24M1842.84,390.94H1853.24" stroke="#000080" stroke-width="1.7" fill="none"/><circle cx="1848.04" cy="389.78" r="6.3" fill="#000080"/>
<path d="M1875.47,388.62V390.94M1870.27,388.62H1880.67M1870.27,390.94H1880.67" stroke="#000080" stroke-width="1.7" fill="none"/><circle cx="1875.47" cy="389.78" r="6.3" fill="#000080"/>
<path d="M1443.36,383.04V387.69M1438.16,383.04H1448.56M1438.16,387.69H1448.56" stroke="#800080" stroke-width="1.7" fill="none"/><circle cx="1443.36" cy="385.36" r="6.3" fill="#800080"/>
<path d="M1469.49,362.45V367.1M1464.29,362.45H1474.69M1464.29,367.1H1474.69" stroke="#800080" stroke-width="1.7" fill="none"/><circle cx="1469.49" cy="364.78" r="6.3" fill="#800080"/>
<path d="M1482.55,346.17V353.15M1477.35,346.17H1487.75M1477.35,353.15H1487.75" stroke="#800080" stroke-width="1.7" fill="none"/><circle cx="1482.55" cy="349.66" r="6.3" fill="#800080"/>
<path d="M1495.61,320.58V327.56M1490.41,320.58H1500.81M1490.41,327.56H1500.81" stroke="#800080" stroke-width="1.7" fill="none"/><circle cx="1495.61" cy="324.07" r="6.3" fill="#800080"/>
<path d="M1508.67,294.18V309.77M1503.47,294.18H1513.88M1503.47,309.77H1513.88" stroke="#800080" stroke-width="1.7" fill="none"/><circle cx="1508.67" cy="301.97" r="6.3" fill="#800080"/>
<path d="M1521.74,269.41V285.69M1516.54,269.41H1526.94M1516.54,285.69H1526.94" stroke="#800080" stroke-width="1.7" fill="none"/><circle cx="1521.74" cy="277.55" r="6.3" fill="#800080"/>
<path d="M1534.8,226.38V256.62M1529.6,226.38H1540M1529.6,256.62H1540" stroke="#800080" stroke-width="1.7" fill="none"/><circle cx="1534.8" cy="241.5" r="6.3" fill="#800080"/>
<path d="M1547.86,134.5V190.33M1542.66,134.5H1553.06M1542.66,190.33H1553.06" stroke="#800080" stroke-width="1.7" fill="none"/><circle cx="1547.86" cy="162.41" r="6.3" fill="#800080"/>
<path d="M1560.92,193.82V228.71M1555.72,193.82H1566.12M1555.72,228.71H1566.12" stroke="#800080" stroke-width="1.7" fill="none"/><circle cx="1560.92" cy="211.26" r="6.3" fill="#800080"/>
<path d="M1573.99,274.99V291.74M1568.79,274.99H1579.19M1568.79,291.74H1579.19" stroke="#800080" stroke-width="1.7" fill="none"/><circle cx="1573.99" cy="283.37" r="6.3" fill="#800080"/>
<path d="M1587.05,322.33V329.31M1581.85,322.33H1592.25M1581.85,329.31H1592.25" stroke="#800080" stroke-width="1.7" fill="none"/><circle cx="1587.05" cy="325.82" r="6.3" fill="#800080"/>
<path d="M1639.3,382.69V385.01M1634.1,382.69H1644.5M1634.1,385.01H1644.5" stroke="#800080" stroke-width="1.7" fill="none"/><circle cx="1639.3" cy="383.85" r="6.3" fill="#800080"/>
<path d="M1691.81,387.8V390.13M1686.61,387.8H1697.01M1686.61,390.13H1697.01" stroke="#800080" stroke-width="1.7" fill="none"/><circle cx="1691.81" cy="388.97" r="6.3" fill="#800080"/>
</g>
<rect x="1623.4" y="39.6" width="202" height="111.7" fill="#fff" stroke="#000" stroke-width="1.6"/>
<circle cx="1661.4" cy="59.1" r="6.2" fill="#800000"/>
<text x="1698.2" y="66.2" font-size="22.2"><tspan font-style="italic">H</tspan> = 0 Oe</text>
<circle cx="1661.4" cy="83.83" r="6.2" fill="#008000"/>
<text x="1698.2" y="90.93" font-size="22.2"><tspan font-style="italic">H</tspan> = 250 Oe</text>
<circle cx="1661.4" cy="108.56" r="6.2" fill="#000080"/>
<text x="1698.2" y="115.66" font-size="22.2"><tspan font-style="italic">H</tspan> = 1000 Oe</text>
<circle cx="1661.4" cy="133.29" r="6.2" fill="#800080"/>
<text x="1698.2" y="140.39" font-size="22.2"><tspan font-style="italic">H</tspan> = 2000 Oe</text>
<rect x="1430.3" y="39.6" width="522.5" height="372.9" fill="none" stroke="#000" stroke-width="1.6"/>
<path d="M1430.3,412.5V406.5M1443.36,412.5V406.5M1456.42,412.5V406.5M1469.49,412.5V406.5M1482.55,412.5V406.5M1495.61,412.5V406.5M1508.67,412.5V406.5M1521.74,412.5V406.5M1534.8,412.5V406.5M1547.86,412.5V406.5M1560.92,412.5V406.5M1573.99,412.5V406.5M1587.05,412.5V406.5M1600.11,412.5V406.5M1613.17,412.5V406.5M1626.24,412.5V406.5M1639.3,412.5V406.5M1652.36,412.5V406.5M1665.42,412.5V406.5M1678.49,412.5V406.5M1691.55,412.5V406.5M1704.61,412.5V406.5M1717.67,412.5V406.5M1730.74,412.5V406.5M1743.8,412.5V406.5M1756.86,412.5V406.5M1769.92,412.5V406.5M1782.99,412.5V406.5M1796.05,412.5V406.5M1809.11,412.5V406.5M1822.17,412.5V406.5M1835.24,412.5V406.5M1848.3,412.5V406.5M1861.36,412.5V406.5M1874.42,412.5V406.5M1887.49,412.5V406.5M1900.55,412.5V406.5M1913.61,412.5V406.5M1926.67,412.5V406.5M1939.74,412.5V406.5M1952.8,412.5V406.5M1430.3,412.5V402M1482.55,412.5V402M1534.8,412.5V402M1587.05,412.5V402M1639.3,412.5V402M1691.55,412.5V402M1743.8,412.5V402M1796.05,412.5V402M1848.3,412.5V402M1900.55,412.5V402M1952.8,412.5V402" stroke="#000" stroke-width="1.6" fill="none"/>
<path d="M1430.3,412.46H1436.3M1430.3,400.83H1436.3M1430.3,389.2H1436.3M1430.3,377.57H1436.3M1430.3,365.94H1436.3M1430.3,354.31H1436.3M1430.3,342.68H1436.3M1430.3,331.05H1436.3M1430.3,319.42H1436.3M1430.3,307.79H1436.3M1430.3,296.16H1436.3M1430.3,284.53H1436.3M1430.3,272.9H1436.3M1430.3,261.27H1436.3M1430.3,249.64H1436.3M1430.3,238.01H1436.3M1430.3,226.38H1436.3M1430.3,214.75H1436.3M1430.3,203.12H1436.3M1430.3,191.49H1436.3M1430.3,179.86H1436.3M1430.3,168.23H1436.3M1430.3,156.6H1436.3M1430.3,144.97H1436.3M1430.3,133.34H1436.3M1430.3,121.71H1436.3M1430.3,110.08H1436.3M1430.3,98.45H1436.3M1430.3,86.82H1436.3M1430.3,75.19H1436.3M1430.3,63.56H1436.3M1430.3,51.93H1436.3M1430.3,40.3H1436.3M1430.3,389.2H1440.8M1430.3,331.05H1440.8M1430.3,272.9H1440.8M1430.3,214.75H1440.8M1430.3,156.6H1440.8M1430.3,98.45H1440.8M1430.3,40.3H1440.8" stroke="#000" stroke-width="1.6" fill="none"/>
<text x="1430.3" y="438.6" font-size="22" text-anchor="middle">0</text>
<text x="1482.55" y="438.6" font-size="22" text-anchor="middle">20</text>
<text x="1534.8" y="438.6" font-size="22" text-anchor="middle">40</text>
<text x="1587.05" y="438.6" font-size="22" text-anchor="middle">60</text>
<text x="1639.3" y="438.6" font-size="22" text-anchor="middle">80</text>
<text x="1691.55" y="438.6" font-size="22" text-anchor="middle">100</text>
<text x="1743.8" y="438.6" font-size="22" text-anchor="middle">120</text>
<text x="1796.05" y="438.6" font-size="22" text-anchor="middle">140</text>
<text x="1848.3" y="438.6" font-size="22" text-anchor="middle">160</text>
<text x="1900.55" y="438.6" font-size="22" text-anchor="middle">180</text>
<text x="1952.8" y="438.6" font-size="22" text-anchor="middle">200</text>
<text x="1423.6" y="396.6" font-size="22" text-anchor="end">0</text>
<text x="1423.6" y="338.45" font-size="22" text-anchor="end">5</text>
<text x="1423.6" y="280.3" font-size="22" text-anchor="end">10</text>
<text x="1423.6" y="222.15" font-size="22" text-anchor="end">15</text>
<text x="1423.6" y="164" font-size="22" text-anchor="end">20</text>
<text x="1423.6" y="105.85" font-size="22" text-anchor="end">25</text>
<text x="1423.6" y="47.7" font-size="22" text-anchor="end">30</text>
<text transform="translate(1390,220.2) rotate(-90)" text-anchor="middle" font-size="44"><tspan font-style="italic">&#955;</tspan><tspan font-style="italic" font-size="30" dy="7.5">L</tspan><tspan dy="-7.5"> (&#956;s</tspan><tspan font-size="29" dy="-16">-1</tspan><tspan dy="16">)</tspan></text>
<text x="1697.5" y="486.6" font-size="44" text-anchor="middle"><tspan font-style="italic">T</tspan> (K)</text>
<text x="1494.5" y="22.5" font-size="31"><tspan font-style="italic">T</tspan><tspan font-size="21" dy="7">g</tspan></text>
<text x="1834.5" y="22.5" font-size="31"><tspan font-style="italic">T</tspan><tspan font-size="21" dy="7">c</tspan></text>
<rect x="1875.26" y="523.5" width="31.84" height="365.5" fill="#ffe6e6"/>
<line x1="1445.42" y1="522" x2="1445.42" y2="889.5" stroke="#000" stroke-width="1.4" stroke-dasharray="4,2.5"/>
<line x1="1907.1" y1="522" x2="1907.1" y2="889.5" stroke="#000" stroke-width="1.4" stroke-dasharray="4,2.5"/>
<g clip-path="url(#cg)">
<path d="M1437.46,845.68V853.02M1432.26,845.68H1442.66M1432.26,853.02H1442.66" stroke="#800000" stroke-width="1.7" fill="none"/><circle cx="1437.46" cy="849.35" r="6.4" fill="#800000"/>
<path d="M1446.06,827.84V840.06M1440.86,827.84H1451.26M1440.86,840.06H1451.26" stroke="#800000" stroke-width="1.7" fill="none"/><circle cx="1446.06" cy="833.95" r="6.4" fill="#800000"/>
<path d="M1449.4,825.39V835.17M1444.2,825.39H1454.6M1444.2,835.17H1454.6" stroke="#800000" stroke-width="1.7" fill="none"/><circle cx="1449.4" cy="830.28" r="6.4" fill="#800000"/>
<path d="M1453.38,822.21V831.99M1448.18,822.21H1458.58M1448.18,831.99H1458.58" stroke="#800000" stroke-width="1.7" fill="none"/><circle cx="1453.38" cy="827.1" r="6.4" fill="#800000"/>
<path d="M1457.36,822.95V832.73M1452.16,822.95H1462.56M1452.16,832.73H1462.56" stroke="#800000" stroke-width="1.7" fill="none"/><circle cx="1457.36" cy="827.84" r="6.4" fill="#800000"/>
<path d="M1461.82,821.23V831.01M1456.62,821.23H1467.02M1456.62,831.01H1467.02" stroke="#800000" stroke-width="1.7" fill="none"/><circle cx="1461.82" cy="826.12" r="6.4" fill="#800000"/>
<path d="M1465.32,818.06V827.84M1460.12,818.06H1470.52M1460.12,827.84H1470.52" stroke="#800000" stroke-width="1.7" fill="none"/><circle cx="1465.32" cy="822.95" r="6.4" fill="#800000"/>
<path d="M1469.78,815.61V827.84M1464.58,815.61H1474.98M1464.58,827.84H1474.98" stroke="#800000" stroke-width="1.7" fill="none"/><circle cx="1469.78" cy="821.72" r="6.4" fill="#800000"/>
<path d="M1473.28,820.5V830.28M1468.08,820.5H1478.48M1468.08,830.28H1478.48" stroke="#800000" stroke-width="1.7" fill="none"/><circle cx="1473.28" cy="825.39" r="6.4" fill="#800000"/>
<path d="M1477.42,823.44V833.22M1472.22,823.44H1482.62M1472.22,833.22H1482.62" stroke="#800000" stroke-width="1.7" fill="none"/><circle cx="1477.42" cy="828.33" r="6.4" fill="#800000"/>
<path d="M1481.24,824.66V834.44M1476.04,824.66H1486.44M1476.04,834.44H1486.44" stroke="#800000" stroke-width="1.7" fill="none"/><circle cx="1481.24" cy="829.55" r="6.4" fill="#800000"/>
<path d="M1485.86,826.86V836.64M1480.66,826.86H1491.06M1480.66,836.64H1491.06" stroke="#800000" stroke-width="1.7" fill="none"/><circle cx="1485.86" cy="831.75" r="6.4" fill="#800000"/>
<path d="M1489.2,830.77V840.55M1484,830.77H1494.4M1484,840.55H1494.4" stroke="#800000" stroke-width="1.7" fill="none"/><circle cx="1489.2" cy="835.66" r="6.4" fill="#800000"/>
<path d="M1493.82,836.39V846.17M1488.62,836.39H1499.02M1488.62,846.17H1499.02" stroke="#800000" stroke-width="1.7" fill="none"/><circle cx="1493.82" cy="841.28" r="6.4" fill="#800000"/>
<path d="M1509.58,836.15V843.48M1504.38,836.15H1514.78M1504.38,843.48H1514.78" stroke="#800000" stroke-width="1.7" fill="none"/><circle cx="1509.58" cy="839.82" r="6.4" fill="#800000"/>
<path d="M1525.5,832.48V839.82M1520.3,832.48H1530.7M1520.3,839.82H1530.7" stroke="#800000" stroke-width="1.7" fill="none"/><circle cx="1525.5" cy="836.15" r="6.4" fill="#800000"/>
<path d="M1556.7,838.59V845.93M1551.5,838.59H1561.9M1551.5,845.93H1561.9" stroke="#800000" stroke-width="1.7" fill="none"/><circle cx="1556.7" cy="842.26" r="6.4" fill="#800000"/>
<path d="M1589.02,834.68V842.02M1583.82,834.68H1594.22M1583.82,842.02H1594.22" stroke="#800000" stroke-width="1.7" fill="none"/><circle cx="1589.02" cy="838.35" r="6.4" fill="#800000"/>
<path d="M1620.54,837.86V843.73M1615.34,837.86H1625.74M1615.34,843.73H1625.74" stroke="#800000" stroke-width="1.7" fill="none"/><circle cx="1620.54" cy="840.79" r="6.4" fill="#800000"/>
<path d="M1652.38,841.77V847.64M1647.18,841.77H1657.58M1647.18,847.64H1657.58" stroke="#800000" stroke-width="1.7" fill="none"/><circle cx="1652.38" cy="844.71" r="6.4" fill="#800000"/>
<path d="M1684.06,823.68V836.88M1678.86,823.68H1689.26M1678.86,836.88H1689.26" stroke="#800000" stroke-width="1.7" fill="none"/><circle cx="1684.06" cy="830.28" r="6.4" fill="#800000"/>
<path d="M1716.22,804.61V825.88M1711.02,804.61H1721.42M1711.02,825.88H1721.42" stroke="#800000" stroke-width="1.7" fill="none"/><circle cx="1716.22" cy="816.59" r="6.4" fill="#800000"/>
<path d="M1747.9,736.39V769.16M1742.7,736.39H1753.1M1742.7,769.16H1753.1" stroke="#800000" stroke-width="1.7" fill="none"/><circle cx="1747.9" cy="753.02" r="6.4" fill="#800000"/>
<path d="M1780.54,719.03V757.66M1775.34,719.03H1785.74M1775.34,757.66H1785.74" stroke="#800000" stroke-width="1.7" fill="none"/><circle cx="1780.54" cy="739.33" r="6.4" fill="#800000"/>
<path d="M1811.26,671.11V719.28M1806.06,671.11H1816.46M1806.06,719.28H1816.46" stroke="#800000" stroke-width="1.7" fill="none"/><circle cx="1811.26" cy="695.81" r="6.4" fill="#800000"/>
<path d="M1843.9,680.4V728.08M1838.7,680.4H1849.1M1838.7,728.08H1849.1" stroke="#800000" stroke-width="1.7" fill="none"/><circle cx="1843.9" cy="704.61" r="6.4" fill="#800000"/>
<path d="M1858.54,595.56V659.38M1853.34,595.56H1863.74M1853.34,659.38H1863.74" stroke="#800000" stroke-width="1.7" fill="none"/><circle cx="1858.54" cy="627.84" r="6.4" fill="#800000"/>
<path d="M1867.14,630.52V688.96M1861.94,630.52H1872.34M1861.94,688.96H1872.34" stroke="#800000" stroke-width="1.7" fill="none"/><circle cx="1867.14" cy="660.35" r="6.4" fill="#800000"/>
<path d="M1874.62,529.3V616.59M1869.42,529.3H1879.82M1869.42,616.59H1879.82" stroke="#800000" stroke-width="1.7" fill="none"/><circle cx="1874.62" cy="574.53" r="6.4" fill="#800000"/>
<path d="M1883.54,544.22V622.21M1878.34,544.22H1888.74M1878.34,622.21H1888.74" stroke="#800000" stroke-width="1.7" fill="none"/><circle cx="1883.54" cy="584.8" r="6.4" fill="#800000"/>
<path d="M1891.18,558.64V637.13M1885.98,558.64H1896.38M1885.98,637.13H1896.38" stroke="#800000" stroke-width="1.7" fill="none"/><circle cx="1891.18" cy="598.01" r="6.4" fill="#800000"/>
<path d="M1898.98,815.12V828.33M1893.78,815.12H1904.18M1893.78,828.33H1904.18" stroke="#800000" stroke-width="1.7" fill="none"/><circle cx="1898.98" cy="821.72" r="6.4" fill="#800000"/>
<path d="M1903.92,863.53V868.42M1898.72,863.53H1909.12M1898.72,868.42H1909.12" stroke="#800000" stroke-width="1.7" fill="none"/><circle cx="1903.92" cy="865.98" r="6.4" fill="#800000"/>
<path d="M1909.01,863.53V868.42M1903.81,863.53H1914.21M1903.81,868.42H1914.21" stroke="#800000" stroke-width="1.7" fill="none"/><circle cx="1909.01" cy="865.98" r="6.4" fill="#800000"/>
<path d="M1913.95,863.53V868.42M1908.75,863.53H1919.15M1908.75,868.42H1919.15" stroke="#800000" stroke-width="1.7" fill="none"/><circle cx="1913.95" cy="865.98" r="6.4" fill="#800000"/>
<path d="M1923.02,862.8V867.69M1917.82,862.8H1928.22M1917.82,867.69H1928.22" stroke="#800000" stroke-width="1.7" fill="none"/><circle cx="1923.02" cy="865.24" r="6.4" fill="#800000"/>
<path d="M1938.94,862.8V867.69M1933.74,862.8H1944.14M1933.74,867.69H1944.14" stroke="#800000" stroke-width="1.7" fill="none"/><circle cx="1938.94" cy="865.24" r="6.4" fill="#800000"/>
<path d="M1437.46,860.6V867.93M1432.26,860.6H1442.66M1432.26,867.93H1442.66" stroke="#008000" stroke-width="1.7" fill="none"/><circle cx="1437.46" cy="864.27" r="6.4" fill="#008000"/>
<path d="M1446.06,796.54V829.3M1440.86,796.54H1451.26M1440.86,829.3H1451.26" stroke="#008000" stroke-width="1.7" fill="none"/><circle cx="1446.06" cy="813.17" r="6.4" fill="#008000"/>
<path d="M1453.86,783.83V815.61M1448.66,783.83H1459.06M1448.66,815.61H1459.06" stroke="#008000" stroke-width="1.7" fill="none"/><circle cx="1453.86" cy="799.72" r="6.4" fill="#008000"/>
<path d="M1461.82,768.42V805.83M1456.62,768.42H1467.02M1456.62,805.83H1467.02" stroke="#008000" stroke-width="1.7" fill="none"/><circle cx="1461.82" cy="788.23" r="6.4" fill="#008000"/>
<path d="M1469.78,758.15V794.1M1464.58,758.15H1474.98M1464.58,794.1H1474.98" stroke="#008000" stroke-width="1.7" fill="none"/><circle cx="1469.78" cy="776.49" r="6.4" fill="#008000"/>
<path d="M1477.42,775.76V808.28M1472.22,775.76H1482.62M1472.22,808.28H1482.62" stroke="#008000" stroke-width="1.7" fill="none"/><circle cx="1477.42" cy="792.14" r="6.4" fill="#008000"/>
<path d="M1485.86,799.23V821.72M1480.66,799.23H1491.06M1480.66,821.72H1491.06" stroke="#008000" stroke-width="1.7" fill="none"/><circle cx="1485.86" cy="811.21" r="6.4" fill="#008000"/>
<path d="M1493.82,817.32V837.37M1488.62,817.32H1499.02M1488.62,837.37H1499.02" stroke="#008000" stroke-width="1.7" fill="none"/><circle cx="1493.82" cy="827.35" r="6.4" fill="#008000"/>
<path d="M1509.58,811.21V833.22M1504.38,811.21H1514.78M1504.38,833.22H1514.78" stroke="#008000" stroke-width="1.7" fill="none"/><circle cx="1509.58" cy="821.72" r="6.4" fill="#008000"/>
<path d="M1525.5,787.74V823.92M1520.3,787.74H1530.7M1520.3,823.92H1530.7" stroke="#008000" stroke-width="1.7" fill="none"/><circle cx="1525.5" cy="806.08" r="6.4" fill="#008000"/>
<path d="M1556.7,806.56V842.75M1551.5,806.56H1561.9M1551.5,842.75H1561.9" stroke="#008000" stroke-width="1.7" fill="none"/><circle cx="1556.7" cy="824.66" r="6.4" fill="#008000"/>
<path d="M1589.02,796.78V831.75M1583.82,796.78H1594.22M1583.82,831.75H1594.22" stroke="#008000" stroke-width="1.7" fill="none"/><circle cx="1589.02" cy="814.63" r="6.4" fill="#008000"/>
<path d="M1620.54,794.1V827.1M1615.34,794.1H1625.74M1615.34,827.1H1625.74" stroke="#008000" stroke-width="1.7" fill="none"/><circle cx="1620.54" cy="810.72" r="6.4" fill="#008000"/>
<path d="M1652.38,818.3V840.31M1647.18,818.3H1657.58M1647.18,840.31H1657.58" stroke="#008000" stroke-width="1.7" fill="none"/><circle cx="1652.38" cy="829.79" r="6.4" fill="#008000"/>
<path d="M1684.06,812.68V837.13M1678.86,812.68H1689.26M1678.86,837.13H1689.26" stroke="#008000" stroke-width="1.7" fill="none"/><circle cx="1684.06" cy="825.88" r="6.4" fill="#008000"/>
<path d="M1716.22,803.88V829.3M1711.02,803.88H1721.42M1711.02,829.3H1721.42" stroke="#008000" stroke-width="1.7" fill="none"/><circle cx="1716.22" cy="816.83" r="6.4" fill="#008000"/>
<path d="M1747.9,791.16V821.72M1742.7,791.16H1753.1M1742.7,821.72H1753.1" stroke="#008000" stroke-width="1.7" fill="none"/><circle cx="1747.9" cy="807.54" r="6.4" fill="#008000"/>
<path d="M1780.06,798.25V827.1M1774.86,798.25H1785.26M1774.86,827.1H1785.26" stroke="#008000" stroke-width="1.7" fill="none"/><circle cx="1780.06" cy="813.9" r="6.4" fill="#008000"/>
<path d="M1811.58,777.71V813.17M1806.38,777.71H1816.78M1806.38,813.17H1816.78" stroke="#008000" stroke-width="1.7" fill="none"/><circle cx="1811.58" cy="796.54" r="6.4" fill="#008000"/>
<path d="M1844.38,753.75V798.74M1839.18,753.75H1849.58M1839.18,798.74H1849.58" stroke="#008000" stroke-width="1.7" fill="none"/><circle cx="1844.38" cy="777.71" r="6.4" fill="#008000"/>
<path d="M1859.18,715.61V769.64M1853.98,715.61H1864.38M1853.98,769.64H1864.38" stroke="#008000" stroke-width="1.7" fill="none"/><circle cx="1859.18" cy="742.99" r="6.4" fill="#008000"/>
<path d="M1867.14,634.68V723.19M1861.94,634.68H1872.34M1861.94,723.19H1872.34" stroke="#008000" stroke-width="1.7" fill="none"/><circle cx="1867.14" cy="679.91" r="6.4" fill="#008000"/>
<path d="M1874.62,551.31V678.69M1869.42,551.31H1879.82M1869.42,678.69H1879.82" stroke="#008000" stroke-width="1.7" fill="none"/><circle cx="1874.62" cy="614.88" r="6.4" fill="#008000"/>
<path d="M1883.54,618.05V715.61M1878.34,618.05H1888.74M1878.34,715.61H1888.74" stroke="#008000" stroke-width="1.7" fill="none"/><circle cx="1883.54" cy="667.69" r="6.4" fill="#008000"/>
<path d="M1891.34,728.08V777.22M1886.14,728.08H1896.54M1886.14,777.22H1896.54" stroke="#008000" stroke-width="1.7" fill="none"/><circle cx="1891.34" cy="753.02" r="6.4" fill="#008000"/>
<path d="M1898.98,779.18V818.06M1893.78,779.18H1904.18M1893.78,818.06H1904.18" stroke="#008000" stroke-width="1.7" fill="none"/><circle cx="1898.98" cy="798.5" r="6.4" fill="#008000"/>
<path d="M1904.87,823.92V848.37M1899.67,823.92H1910.07M1899.67,848.37H1910.07" stroke="#008000" stroke-width="1.7" fill="none"/><circle cx="1904.87" cy="836.15" r="6.4" fill="#008000"/>
<path d="M1912.04,846.91V856.69M1906.84,846.91H1917.24M1906.84,856.69H1917.24" stroke="#008000" stroke-width="1.7" fill="none"/><circle cx="1912.04" cy="851.8" r="6.4" fill="#008000"/>
<path d="M1916.97,862.55V867.45M1911.77,862.55H1922.17M1911.77,867.45H1922.17" stroke="#008000" stroke-width="1.7" fill="none"/><circle cx="1916.97" cy="865" r="6.4" fill="#008000"/>
<path d="M1939.1,843.24V863.04M1933.9,843.24H1944.3M1933.9,863.04H1944.3" stroke="#008000" stroke-width="1.7" fill="none"/><circle cx="1939.1" cy="853.26" r="6.4" fill="#008000"/>
<path d="M1437.46,860.84V866.71M1432.26,860.84H1442.66M1432.26,866.71H1442.66" stroke="#000080" stroke-width="1.7" fill="none"/><circle cx="1437.46" cy="863.78" r="6.4" fill="#000080"/>
<path d="M1446.06,848.13V855.46M1440.86,848.13H1451.26M1440.86,855.46H1451.26" stroke="#000080" stroke-width="1.7" fill="none"/><circle cx="1446.06" cy="851.8" r="6.4" fill="#000080"/>
<path d="M1453.38,813.17V843.97M1448.18,813.17H1458.58M1448.18,843.97H1458.58" stroke="#000080" stroke-width="1.7" fill="none"/><circle cx="1453.38" cy="828.33" r="6.4" fill="#000080"/>
<path d="M1461.82,750.08V813.17M1456.62,750.08H1467.02M1456.62,813.17H1467.02" stroke="#000080" stroke-width="1.7" fill="none"/><circle cx="1461.82" cy="782.6" r="6.4" fill="#000080"/>
<path d="M1469.78,684.07V767.2M1464.58,684.07H1474.98M1464.58,767.2H1474.98" stroke="#000080" stroke-width="1.7" fill="none"/><circle cx="1469.78" cy="725.63" r="6.4" fill="#000080"/>
<path d="M1477.42,792.87V840.31M1472.22,792.87H1482.62M1472.22,840.31H1482.62" stroke="#000080" stroke-width="1.7" fill="none"/><circle cx="1477.42" cy="817.32" r="6.4" fill="#000080"/>
<path d="M1493.82,835.9V852.77M1488.62,835.9H1499.02M1488.62,852.77H1499.02" stroke="#000080" stroke-width="1.7" fill="none"/><circle cx="1493.82" cy="844.71" r="6.4" fill="#000080"/>
<path d="M1509.58,856.93V861.82M1504.38,856.93H1514.78M1504.38,861.82H1514.78" stroke="#000080" stroke-width="1.7" fill="none"/><circle cx="1509.58" cy="859.38" r="6.4" fill="#000080"/>
<path d="M1525.5,859.38V864.27M1520.3,859.38H1530.7M1520.3,864.27H1530.7" stroke="#000080" stroke-width="1.7" fill="none"/><circle cx="1525.5" cy="861.82" r="6.4" fill="#000080"/>
<path d="M1556.7,860.84V865.73M1551.5,860.84H1561.9M1551.5,865.73H1561.9" stroke="#000080" stroke-width="1.7" fill="none"/><circle cx="1556.7" cy="863.29" r="6.4" fill="#000080"/>
<path d="M1589.02,859.38V864.27M1583.82,859.38H1594.22M1583.82,864.27H1594.22" stroke="#000080" stroke-width="1.7" fill="none"/><circle cx="1589.02" cy="861.82" r="6.4" fill="#000080"/>
<path d="M1653.02,861.82V866.71M1647.82,861.82H1658.22M1647.82,866.71H1658.22" stroke="#000080" stroke-width="1.7" fill="none"/><circle cx="1653.02" cy="864.27" r="6.4" fill="#000080"/>
<path d="M1716.22,848.37V858.15M1711.02,848.37H1721.42M1711.02,858.15H1721.42" stroke="#000080" stroke-width="1.7" fill="none"/><circle cx="1716.22" cy="853.26" r="6.4" fill="#000080"/>
<path d="M1781.49,823.19V850.57M1776.29,823.19H1786.69M1776.29,850.57H1786.69" stroke="#000080" stroke-width="1.7" fill="none"/><circle cx="1781.49" cy="837.13" r="6.4" fill="#000080"/>
<path d="M1844.69,796.78V809.74M1839.49,796.78H1849.89M1839.49,809.74H1849.89" stroke="#000080" stroke-width="1.7" fill="none"/><circle cx="1844.69" cy="804.85" r="6.4" fill="#000080"/>
<path d="M1858.7,806.08V813.41M1853.5,806.08H1863.9M1853.5,813.41H1863.9" stroke="#000080" stroke-width="1.7" fill="none"/><circle cx="1858.7" cy="809.74" r="6.4" fill="#000080"/>
<path d="M1867.78,808.28V814.14M1862.58,808.28H1872.98M1862.58,814.14H1872.98" stroke="#000080" stroke-width="1.7" fill="none"/><circle cx="1867.78" cy="811.21" r="6.4" fill="#000080"/>
<path d="M1875.26,817.32V822.21M1870.06,817.32H1880.46M1870.06,822.21H1880.46" stroke="#000080" stroke-width="1.7" fill="none"/><circle cx="1875.26" cy="819.77" r="6.4" fill="#000080"/>
<path d="M1890.86,824.66V829.55M1885.66,824.66H1896.06M1885.66,829.55H1896.06" stroke="#000080" stroke-width="1.7" fill="none"/><circle cx="1890.86" cy="827.1" r="6.4" fill="#000080"/>
<path d="M1897.87,832.24V838.11M1892.67,832.24H1903.07M1892.67,838.11H1903.07" stroke="#000080" stroke-width="1.7" fill="none"/><circle cx="1897.87" cy="835.17" r="6.4" fill="#000080"/>
<path d="M1900.89,835.42V841.28M1895.69,835.42H1906.09M1895.69,841.28H1906.09" stroke="#000080" stroke-width="1.7" fill="none"/><circle cx="1900.89" cy="838.35" r="6.4" fill="#000080"/>
<path d="M1907.9,834.93V844.71M1902.7,834.93H1913.1M1902.7,844.71H1913.1" stroke="#000080" stroke-width="1.7" fill="none"/><circle cx="1907.9" cy="839.82" r="6.4" fill="#000080"/>
<path d="M1923.02,862.31V867.2M1917.82,862.31H1928.22M1917.82,867.2H1928.22" stroke="#000080" stroke-width="1.7" fill="none"/><circle cx="1923.02" cy="864.76" r="6.4" fill="#000080"/>
<path d="M1939.1,862.8V867.69M1933.9,862.8H1944.3M1933.9,867.69H1944.3" stroke="#000080" stroke-width="1.7" fill="none"/><circle cx="1939.1" cy="865.24" r="6.4" fill="#000080"/>
</g>
<rect x="1506.1" y="522" width="232.4" height="110.3" fill="#fff" stroke="#000" stroke-width="1.6"/>
<circle cx="1545.4" cy="546" r="6.3" fill="#800000"/>
<text x="1583.5" y="555.2" font-size="27.6"><tspan font-style="italic">H</tspan> = 0 Oe</text>
<circle cx="1545.4" cy="578.3" r="6.3" fill="#008000"/>
<text x="1583.5" y="587.5" font-size="27.6"><tspan font-style="italic">H</tspan> = 300 Oe</text>
<circle cx="1545.4" cy="610.6" r="6.3" fill="#000080"/>
<text x="1583.5" y="619.8" font-size="27.6"><tspan font-style="italic">H</tspan> = 3000 Oe</text>
<rect x="1429.5" y="522" width="524.8" height="367.5" fill="none" stroke="#000" stroke-width="1.6"/>
<path d="M1429.5,889.5V883.5M1445.42,889.5V883.5M1461.34,889.5V883.5M1477.26,889.5V883.5M1493.18,889.5V883.5M1509.1,889.5V883.5M1525.02,889.5V883.5M1540.94,889.5V883.5M1556.86,889.5V883.5M1572.78,889.5V883.5M1588.7,889.5V883.5M1604.62,889.5V883.5M1620.54,889.5V883.5M1636.46,889.5V883.5M1652.38,889.5V883.5M1668.3,889.5V883.5M1684.22,889.5V883.5M1700.14,889.5V883.5M1716.06,889.5V883.5M1731.98,889.5V883.5M1747.9,889.5V883.5M1763.82,889.5V883.5M1779.74,889.5V883.5M1795.66,889.5V883.5M1811.58,889.5V883.5M1827.5,889.5V883.5M1843.42,889.5V883.5M1859.34,889.5V883.5M1875.26,889.5V883.5M1891.18,889.5V883.5M1907.1,889.5V883.5M1923.02,889.5V883.5M1938.94,889.5V883.5M1954.86,889.5V883.5M1429.5,889.5V879M1509.1,889.5V879M1588.7,889.5V879M1668.3,889.5V879M1747.9,889.5V879M1827.5,889.5V879M1907.1,889.5V879" stroke="#000" stroke-width="1.6" fill="none"/>
<path d="M1429.5,889.45H1435.5M1429.5,877.23H1435.5M1429.5,865H1435.5M1429.5,852.77H1435.5M1429.5,840.55H1435.5M1429.5,828.33H1435.5M1429.5,816.1H1435.5M1429.5,803.88H1435.5M1429.5,791.65H1435.5M1429.5,779.42H1435.5M1429.5,767.2H1435.5M1429.5,754.98H1435.5M1429.5,742.75H1435.5M1429.5,730.52H1435.5M1429.5,718.3H1435.5M1429.5,706.08H1435.5M1429.5,693.85H1435.5M1429.5,681.62H1435.5M1429.5,669.4H1435.5M1429.5,657.17H1435.5M1429.5,644.95H1435.5M1429.5,632.73H1435.5M1429.5,620.5H1435.5M1429.5,608.28H1435.5M1429.5,596.05H1435.5M1429.5,583.83H1435.5M1429.5,571.6H1435.5M1429.5,559.38H1435.5M1429.5,547.15H1435.5M1429.5,534.92H1435.5M1429.5,522.7H1435.5M1429.5,865H1440M1429.5,816.1H1440M1429.5,767.2H1440M1429.5,718.3H1440M1429.5,669.4H1440M1429.5,620.5H1440M1429.5,571.6H1440M1429.5,522.7H1440" stroke="#000" stroke-width="1.6" fill="none"/>
<text x="1429.5" y="917.6" font-size="22" text-anchor="middle">0</text>
<text x="1509.1" y="917.6" font-size="22" text-anchor="middle">50</text>
<text x="1588.7" y="917.6" font-size="22" text-anchor="middle">100</text>
<text x="1668.3" y="917.6" font-size="22" text-anchor="middle">150</text>
<text x="1747.9" y="917.6" font-size="22" text-anchor="middle">200</text>
<text x="1827.5" y="917.6" font-size="22" text-anchor="middle">250</text>
<text x="1907.1" y="917.6" font-size="22" text-anchor="middle">300</text>
<text x="1423.6" y="872.4" font-size="22" text-anchor="end">0</text>
<text x="1423.6" y="823.5" font-size="22" text-anchor="end">2</text>
<text x="1423.6" y="774.6" font-size="22" text-anchor="end">4</text>
<text x="1423.6" y="725.7" font-size="22" text-anchor="end">6</text>
<text x="1423.6" y="676.8" font-size="22" text-anchor="end">8</text>
<text x="1423.6" y="627.9" font-size="22" text-anchor="end">10</text>
<text x="1423.6" y="579" font-size="22" text-anchor="end">12</text>
<text x="1423.6" y="530.1" font-size="22" text-anchor="end">14</text>
<text transform="translate(1390,701) rotate(-90)" text-anchor="middle" font-size="44"><tspan font-style="italic">&#955;</tspan><tspan font-style="italic" font-size="30" dy="7.5">L</tspan><tspan dy="-7.5"> (&#956;s</tspan><tspan font-size="29" dy="-16">-1</tspan><tspan dy="16">)</tspan></text>
<text x="1697.5" y="963" font-size="44" text-anchor="middle"><tspan font-style="italic">T</tspan> (K)</text>
<text x="1435" y="503.5" font-size="31"><tspan font-style="italic">T</tspan><tspan font-size="21" dy="7">g</tspan></text>
<text x="1892" y="503.5" font-size="31"><tspan font-style="italic">T</tspan><tspan font-size="21" dy="7">c</tspan></text>
<text x="0.5" y="92.7" font-size="35.5" font-weight="bold" letter-spacing="1">(a)</text>
<text x="0.5" y="407.7" font-size="35.5" font-weight="bold" letter-spacing="1">(b)</text>
<text x="0.5" y="720" font-size="35.5" font-weight="bold" letter-spacing="1">(c)</text>
<text x="549" y="93.5" font-size="35.5" font-weight="bold" letter-spacing="1">(d)</text>
<text x="549" y="545.5" font-size="35.5" font-weight="bold" letter-spacing="1">(e)</text>
<text x="1340" y="92.5" font-size="35.5" font-weight="bold" letter-spacing="1">(f)</text>
<text x="1340" y="548" font-size="35.5" font-weight="bold" letter-spacing="1">(g)</text>
</svg>
</body></html>
